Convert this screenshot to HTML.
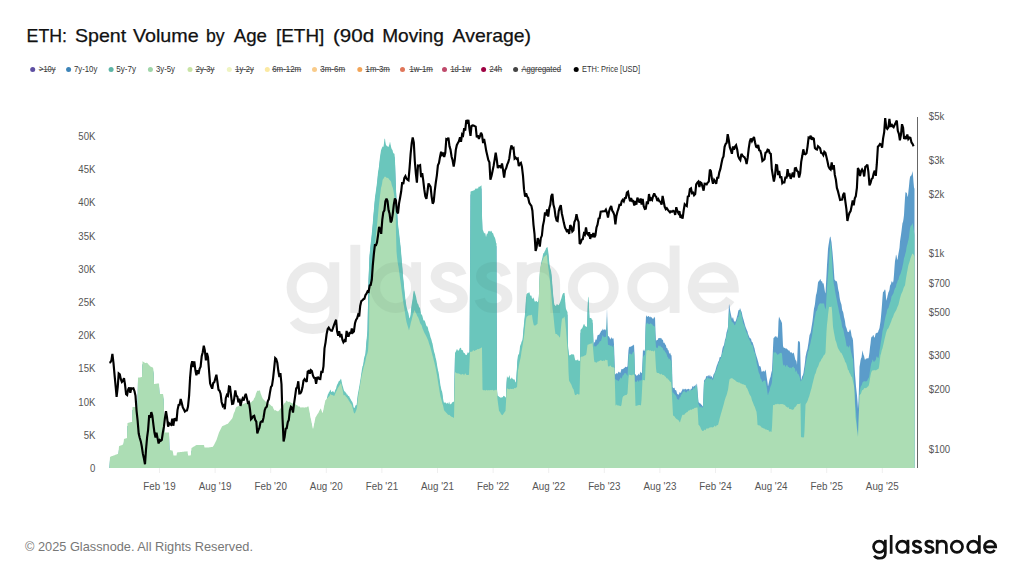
<!DOCTYPE html><html><head><meta charset="utf-8"><title>ETH: Spent Volume by Age</title>
<style>html,body{margin:0;padding:0;background:#fff}body{width:1024px;height:576px;overflow:hidden}svg{display:block}text{font-family:"Liberation Sans",sans-serif}</style></head><body>
<svg width="1024" height="576" viewBox="0 0 1024 576">
<rect width="1024" height="576" fill="#fff"/>
<text x="26.6" y="41.6" font-size="18.6" fill="#111" stroke="#111" stroke-width="0.25" textLength="40.4" lengthAdjust="spacingAndGlyphs">ETH:</text>
<text x="75.0" y="41.6" font-size="18.6" fill="#111" stroke="#111" stroke-width="0.25" textLength="51.2" lengthAdjust="spacingAndGlyphs">Spent</text>
<text x="132.9" y="41.6" font-size="18.6" fill="#111" stroke="#111" stroke-width="0.25" textLength="65.8" lengthAdjust="spacingAndGlyphs">Volume</text>
<text x="205.9" y="41.6" font-size="18.6" fill="#111" stroke="#111" stroke-width="0.25" textLength="18.6" lengthAdjust="spacingAndGlyphs">by</text>
<text x="233.8" y="41.6" font-size="18.6" fill="#111" stroke="#111" stroke-width="0.25" textLength="33.2" lengthAdjust="spacingAndGlyphs">Age</text>
<text x="276.0" y="41.6" font-size="18.6" fill="#111" stroke="#111" stroke-width="0.25" textLength="48.3" lengthAdjust="spacingAndGlyphs">[ETH]</text>
<text x="333.0" y="41.6" font-size="18.6" fill="#111" stroke="#111" stroke-width="0.25" textLength="41.2" lengthAdjust="spacingAndGlyphs">(90d</text>
<text x="382.2" y="41.6" font-size="18.6" fill="#111" stroke="#111" stroke-width="0.25" textLength="61.6" lengthAdjust="spacingAndGlyphs">Moving</text>
<text x="452.6" y="41.6" font-size="18.6" fill="#111" stroke="#111" stroke-width="0.25" textLength="78.4" lengthAdjust="spacingAndGlyphs">Average)</text>
<circle cx="32.7" cy="69.5" r="2.5" fill="#5e4fa2"/>
<text transform="translate(39.0,72.3) scale(1,1.1)" font-size="7.6" fill="#333" textLength="16.5" lengthAdjust="spacingAndGlyphs">&gt;10y</text>
<rect x="38.7" y="69.4" width="17.1" height="0.6" fill="#444"/>
<circle cx="68.6" cy="69.5" r="2.5" fill="#3d84b8"/>
<text transform="translate(73.9,72.3) scale(1,1.1)" font-size="7.6" fill="#333" textLength="23.4" lengthAdjust="spacingAndGlyphs">7y-10y</text>
<circle cx="111.1" cy="69.5" r="2.5" fill="#5db5a6"/>
<text transform="translate(116.3,72.3) scale(1,1.1)" font-size="7.6" fill="#333" textLength="19.8" lengthAdjust="spacingAndGlyphs">5y-7y</text>
<circle cx="150.4" cy="69.5" r="2.5" fill="#9fd5a8"/>
<text transform="translate(156.0,72.3) scale(1,1.1)" font-size="7.6" fill="#333" textLength="19.0" lengthAdjust="spacingAndGlyphs">3y-5y</text>
<circle cx="190.0" cy="69.5" r="2.5" fill="#c8e3a4"/>
<text transform="translate(195.7,72.3) scale(1,1.1)" font-size="7.6" fill="#333" textLength="18.7" lengthAdjust="spacingAndGlyphs">2y-3y</text>
<rect x="195.4" y="69.4" width="19.3" height="0.6" fill="#444"/>
<circle cx="229.3" cy="69.5" r="2.5" fill="#eff4c2"/>
<text transform="translate(235.2,72.3) scale(1,1.1)" font-size="7.6" fill="#333" textLength="18.6" lengthAdjust="spacingAndGlyphs">1y-2y</text>
<rect x="234.9" y="69.4" width="19.2" height="0.6" fill="#444"/>
<circle cx="267.3" cy="69.5" r="2.5" fill="#fbe9a2"/>
<text transform="translate(272.2,72.3) scale(1,1.1)" font-size="7.6" fill="#333" textLength="28.9" lengthAdjust="spacingAndGlyphs">6m-12m</text>
<rect x="271.9" y="69.4" width="29.5" height="0.6" fill="#444"/>
<circle cx="314.5" cy="69.5" r="2.5" fill="#f9cb8a"/>
<text transform="translate(320.3,72.3) scale(1,1.1)" font-size="7.6" fill="#333" textLength="24.7" lengthAdjust="spacingAndGlyphs">3m-6m</text>
<rect x="320.0" y="69.4" width="25.3" height="0.6" fill="#444"/>
<circle cx="359.8" cy="69.5" r="2.5" fill="#f2a457"/>
<text transform="translate(365.6,72.3) scale(1,1.1)" font-size="7.6" fill="#333" textLength="24.2" lengthAdjust="spacingAndGlyphs">1m-3m</text>
<rect x="365.3" y="69.4" width="24.8" height="0.6" fill="#444"/>
<circle cx="402.5" cy="69.5" r="2.5" fill="#e0765a"/>
<text transform="translate(409.4,72.3) scale(1,1.1)" font-size="7.6" fill="#333" textLength="23.4" lengthAdjust="spacingAndGlyphs">1w-1m</text>
<rect x="409.1" y="69.4" width="24.0" height="0.6" fill="#444"/>
<circle cx="444.5" cy="69.5" r="2.5" fill="#bf4a6b"/>
<text transform="translate(450.4,72.3) scale(1,1.1)" font-size="7.6" fill="#333" textLength="20.6" lengthAdjust="spacingAndGlyphs">1d-1w</text>
<rect x="450.1" y="69.4" width="21.2" height="0.6" fill="#444"/>
<circle cx="483.6" cy="69.5" r="2.5" fill="#9e0142"/>
<text transform="translate(489.5,72.3) scale(1,1.1)" font-size="7.6" fill="#333" textLength="12.5" lengthAdjust="spacingAndGlyphs">24h</text>
<rect x="489.2" y="69.4" width="13.1" height="0.6" fill="#444"/>
<circle cx="515.6" cy="69.5" r="2.5" fill="#444444"/>
<text transform="translate(521.5,72.3) scale(1,1.1)" font-size="7.6" fill="#333" textLength="39.5" lengthAdjust="spacingAndGlyphs">Aggregated</text>
<rect x="521.2" y="69.4" width="40.1" height="0.6" fill="#444"/>
<circle cx="576.2" cy="69.5" r="2.5" fill="#000000"/>
<text transform="translate(582.0,72.3) scale(1,1.1)" font-size="7.6" fill="#333" textLength="58.0" lengthAdjust="spacingAndGlyphs">ETH: Price [USD]</text>
<g opacity="0.03" transform="translate(286.7,312.9) scale(3.62)"><g fill="none" stroke="#000" stroke-width="2.7"><circle cx="7" cy="-7" r="5.65"/><path d="M13.15,-14 V-0.5 C13.15,3 10.5,4.45 7.2,4.45 C4.8,4.45 3,3.6 2.0,2.0"/><path d="M18.95,-18.8 V0"/><circle cx="30.1" cy="-7" r="5.65"/><path d="M35.75,-14 V0"/><path transform="translate(44.8,0) scale(1.1,1)" d="M3.1,-10.4 C2.6,-11.9 1.5,-12.7 0,-12.7 C-1.9,-12.7 -3.2,-11.6 -3.2,-10.1 C-3.2,-8.4 -1.6,-7.7 0,-7.2 C1.8,-6.7 3.4,-5.9 3.4,-4.0 C3.4,-2.3 1.9,-1.3 0,-1.3 C-1.8,-1.3 -3.1,-2.2 -3.6,-3.8"/><path transform="translate(57.2,0) scale(1.08,1)" d="M3.1,-10.4 C2.6,-11.9 1.5,-12.7 0,-12.7 C-1.9,-12.7 -3.2,-11.6 -3.2,-10.1 C-3.2,-8.4 -1.6,-7.7 0,-7.2 C1.8,-6.7 3.4,-5.9 3.4,-4.0 C3.4,-2.3 1.9,-1.3 0,-1.3 C-1.8,-1.3 -3.1,-2.2 -3.6,-3.8"/><path d="M64.95,0 V-14 M64.95,-8.2 C64.95,-11 67,-12.65 69.55,-12.65 C72.3,-12.65 74.15,-10.9 74.15,-8.2 V0"/><circle cx="84.7" cy="-7" r="5.65"/><circle cx="101.1" cy="-7" r="5.65"/><path d="M107.15,-18.6 V0"/><path d="M112.3,-7 H123.5 A5.65,5.65 0 1 0 122.53,-3.76"/></g></g>
<path d="M109.5,468.0L109.5,468.0L110.0,459.9L110.5,459.7L111.0,459.5L111.5,459.3L112.0,459.1L112.5,458.9L113.0,458.7L113.5,458.6L114.0,458.4L114.5,458.2L115.0,458.0L115.5,457.8L116.0,457.6L116.5,457.5L117.0,457.3L117.5,457.1L118.0,456.9L118.5,455.5L119.0,449.2L119.5,449.0L120.0,448.8L120.5,448.6L121.0,448.4L121.5,448.2L122.0,448.0L122.5,447.8L123.0,447.6L123.5,446.5L124.0,442.0L124.5,441.8L125.0,441.7L125.5,441.5L126.0,441.3L126.5,441.2L127.0,441.0L127.5,426.0L128.0,425.9L128.5,425.8L129.0,425.6L129.5,425.5L130.0,425.4L130.5,425.3L131.0,425.1L131.5,425.0L132.0,424.9L132.5,409.9L133.0,409.9L133.5,409.9L134.0,409.9L134.5,409.9L135.0,410.0L135.5,410.0L136.0,410.0L136.5,410.0L137.0,410.0L137.5,410.0L138.0,380.7L138.5,380.6L139.0,380.5L139.5,380.4L140.0,380.4L140.5,380.3L141.0,380.2L141.5,380.1L142.0,380.0L142.5,364.2L143.0,364.6L143.5,364.9L144.0,365.3L144.5,365.6L145.0,366.0L145.5,365.9L146.0,365.9L146.5,365.8L147.0,365.8L147.5,366.2L148.0,366.8L148.5,367.4L149.0,368.0L149.5,368.6L150.0,369.2L150.5,369.6L151.0,369.8L151.5,370.0L152.0,370.2L152.5,370.4L153.0,370.6L153.5,373.5L154.0,387.0L154.5,386.9L155.0,386.9L155.5,386.8L156.0,386.8L156.5,386.7L157.0,386.6L157.5,386.6L158.0,386.5L158.5,386.5L159.0,386.4L159.5,395.2L160.0,397.0L160.5,397.0L161.0,397.0L161.5,397.0L162.0,397.0L162.5,397.0L163.0,397.0L163.5,399.7L164.0,413.0L164.5,431.8L165.0,435.5L165.5,435.5L166.0,435.5L166.5,435.5L167.0,435.5L167.5,435.5L168.0,435.5L168.5,435.5L169.0,435.5L169.5,453.1L170.0,453.1L170.5,453.2L171.0,453.3L171.5,453.4L172.0,453.5L172.5,453.6L173.0,455.5L173.5,458.6L174.0,458.6L174.5,458.6L175.0,458.6L175.5,458.6L176.0,458.6L176.5,458.6L177.0,455.5L177.5,455.4L178.0,455.3L178.5,455.3L179.0,455.2L179.5,455.2L180.0,455.1L180.5,455.1L181.0,455.0L181.5,455.0L182.0,454.9L182.5,454.8L183.0,454.8L183.5,454.7L184.0,454.7L184.5,454.6L185.0,454.6L185.5,454.5L186.0,454.4L186.5,454.4L187.0,454.3L187.5,454.3L188.0,458.6L188.5,458.6L189.0,458.6L189.5,458.6L190.0,458.6L190.5,458.6L191.0,457.3L191.5,451.0L192.0,450.7L192.5,450.4L193.0,450.1L193.5,449.8L194.0,449.5L194.5,449.2L195.0,448.9L195.5,448.6L196.0,448.3L196.5,448.0L197.0,448.0L197.5,448.0L198.0,448.0L198.5,448.0L199.0,448.0L199.5,448.0L200.0,448.0L200.5,448.0L201.0,448.0L201.5,448.0L202.0,448.0L202.5,448.0L203.0,448.0L203.5,448.0L204.0,448.0L204.5,450.5L205.0,450.5L205.5,450.5L206.0,450.5L206.5,450.5L207.0,450.5L207.5,450.5L208.0,450.5L208.5,450.4L209.0,450.4L209.5,450.3L210.0,450.2L210.5,450.2L211.0,450.1L211.5,450.0L212.0,450.0L212.5,449.9L213.0,449.5L213.5,448.8L214.0,448.0L214.5,447.0L215.0,446.0L215.5,445.0L216.0,444.0L216.5,443.0L217.0,441.5L217.5,440.0L218.0,438.5L218.5,437.0L219.0,435.5L219.5,434.5L220.0,433.5L220.5,432.5L221.0,431.5L221.5,430.5L222.0,429.5L222.5,429.1L223.0,428.9L223.5,428.6L224.0,428.4L224.5,428.2L225.0,428.0L225.5,427.7L226.0,427.5L226.5,427.3L227.0,427.1L227.5,426.9L228.0,426.5L228.5,425.9L229.0,425.3L229.5,424.7L230.0,424.1L230.5,423.5L231.0,422.9L231.5,422.3L232.0,421.8L232.5,420.7L233.0,419.2L233.5,417.2L234.0,415.7L234.5,415.0L235.0,413.8L235.5,411.7L236.0,410.4L236.5,410.1L237.0,409.6L237.5,409.5L238.0,409.5L238.5,409.1L239.0,409.0L239.5,408.9L240.0,408.2L240.5,408.1L241.0,408.2L241.5,408.5L242.0,407.7L242.5,406.9L243.0,406.9L243.5,406.8L244.0,407.0L244.5,406.5L245.0,406.3L245.5,406.1L246.0,406.0L246.5,405.8L247.0,405.8L247.5,405.3L248.0,404.4L248.5,405.3L249.0,405.9L249.5,405.4L250.0,405.0L250.5,405.4L251.0,405.4L251.5,405.0L252.0,404.3L252.5,403.7L253.0,403.7L253.5,402.9L254.0,401.6L254.5,400.8L255.0,400.2L255.5,398.4L256.0,396.4L256.5,395.5L257.0,394.3L257.5,393.7L258.0,393.6L258.5,393.7L259.0,393.9L259.5,393.3L260.0,393.6L260.5,395.9L261.0,397.3L261.5,398.5L262.0,400.1L262.5,400.9L263.0,402.0L263.5,402.5L264.0,402.8L264.5,403.5L265.0,404.0L265.5,404.6L266.0,405.0L266.5,405.4L267.0,406.2L267.5,406.5L268.0,406.7L268.5,406.8L269.0,407.0L269.5,407.3L270.0,407.5L270.5,408.0L271.0,408.4L271.5,409.0L272.0,409.2L272.5,409.3L273.0,410.4L273.5,411.8L274.0,412.5L274.5,413.3L275.0,413.8L275.5,412.9L276.0,413.2L276.5,414.1L277.0,414.0L277.5,414.2L278.0,414.4L278.5,414.1L279.0,413.6L279.5,413.1L280.0,412.2L280.5,411.5L281.0,411.0L281.5,410.5L282.0,410.4L282.5,409.7L283.0,408.8L283.5,407.7L284.0,406.6L284.5,406.2L285.0,405.9L285.5,405.6L286.0,404.1L286.5,403.4L287.0,404.2L287.5,404.5L288.0,404.6L288.5,405.1L289.0,404.9L289.5,404.6L290.0,404.9L290.5,405.4L291.0,405.7L291.5,406.1L292.0,406.1L292.5,406.3L293.0,406.7L293.5,407.2L294.0,407.8L294.5,407.8L295.0,407.6L295.5,407.1L296.0,407.8L296.5,408.3L297.0,407.9L297.5,408.6L298.0,409.5L298.5,409.6L299.0,409.3L299.5,409.5L300.0,409.9L300.5,410.4L301.0,410.7L301.5,410.2L302.0,410.4L302.5,410.5L303.0,410.1L303.5,410.5L304.0,410.8L304.5,410.7L305.0,410.1L305.5,410.3L306.0,410.7L306.5,410.3L307.0,409.9L307.5,409.6L308.0,409.7L308.5,409.3L309.0,412.2L309.5,414.9L310.0,417.9L310.5,420.8L311.0,422.7L311.5,425.3L312.0,428.0L312.5,430.2L313.0,432.4L313.5,430.2L314.0,427.9L314.5,425.6L315.0,422.8L315.5,420.3L316.0,419.8L316.5,418.7L317.0,417.9L317.5,417.0L318.0,416.5L318.5,415.8L319.0,414.5L319.5,413.6L320.0,412.8L320.5,411.4L321.0,412.1L321.5,413.5L322.0,414.7L322.5,415.7L323.0,415.7L323.5,412.5L324.0,409.8L324.5,407.4L325.0,405.0L325.5,403.1L326.0,402.9L326.5,402.1L327.0,400.5L327.5,398.8L328.0,397.0L328.5,396.4L329.0,394.9L329.5,394.7L330.0,393.3L330.5,392.6L331.0,394.4L331.5,395.1L332.0,394.9L332.5,394.2L333.0,394.0L333.5,394.7L334.0,395.4L334.5,395.6L335.0,393.5L335.5,392.6L336.0,391.8L336.5,389.6L337.0,387.9L337.5,386.9L338.0,386.3L338.5,384.8L339.0,384.0L339.5,383.9L340.0,383.0L340.5,382.5L341.0,381.4L341.5,383.7L342.0,386.5L342.5,388.5L343.0,389.9L343.5,392.0L344.0,393.6L344.5,394.6L345.0,394.5L345.5,395.3L346.0,395.9L346.5,396.5L347.0,398.0L347.5,397.3L348.0,398.8L348.5,399.3L349.0,398.7L349.5,400.2L350.0,401.3L350.5,402.1L351.0,403.0L351.5,403.9L352.0,404.6L352.5,405.5L353.0,407.0L353.5,409.8L354.0,411.0L354.5,411.0L355.0,409.7L355.5,408.4L356.0,407.9L356.5,408.2L357.0,405.3L357.5,399.6L358.0,396.3L358.5,393.8L359.0,390.9L359.5,388.2L360.0,385.1L360.5,382.1L361.0,378.8L361.5,375.4L362.0,371.7L362.5,369.3L363.0,368.5L363.5,365.4L364.0,361.5L364.5,359.5L365.0,358.2L365.5,356.3L366.0,349.3L366.5,343.4L367.0,338.4L367.5,332.8L368.0,306.9L368.5,282.2L369.0,270.8L369.5,257.9L370.0,253.4L370.5,248.1L371.0,243.9L371.5,239.6L372.0,234.3L372.5,229.1L373.0,223.5L373.5,216.8L374.0,211.4L374.5,205.6L375.0,200.2L375.5,196.8L376.0,193.3L376.5,189.4L377.0,185.7L377.5,181.0L378.0,175.5L378.5,172.4L379.0,169.6L379.5,164.5L380.0,160.1L380.5,156.7L381.0,153.2L381.5,151.9L382.0,150.8L382.5,149.6L383.0,149.7L383.5,149.8L384.0,145.9L384.5,141.8L385.0,141.7L385.5,146.2L386.0,148.1L386.5,148.6L387.0,149.2L387.5,149.3L388.0,149.7L388.5,149.9L389.0,148.6L389.5,147.1L390.0,144.5L390.5,147.2L391.0,149.7L391.5,151.6L392.0,152.6L392.5,153.0L393.0,155.3L393.5,156.5L394.0,156.3L394.5,157.3L395.0,163.8L395.5,178.3L396.0,192.0L396.5,201.4L397.0,209.9L397.5,219.9L398.0,227.1L398.5,231.4L399.0,235.1L399.5,239.9L400.0,244.4L400.5,248.4L401.0,254.0L401.5,260.8L402.0,265.9L402.5,272.0L403.0,278.9L403.5,283.4L404.0,289.0L404.5,294.2L405.0,298.7L405.5,303.3L406.0,306.7L406.5,309.6L407.0,311.9L407.5,313.6L408.0,314.9L408.5,316.4L409.0,319.6L409.5,321.6L410.0,320.4L410.5,318.4L411.0,314.2L411.5,308.6L412.0,305.7L412.5,303.0L413.0,298.8L413.5,294.8L414.0,293.6L414.5,294.3L415.0,296.1L415.5,297.7L416.0,299.6L416.5,302.2L417.0,304.6L417.5,306.6L418.0,306.7L418.5,308.0L419.0,309.7L419.5,310.6L420.0,311.1L420.5,313.7L421.0,316.9L421.5,317.5L422.0,318.0L422.5,319.5L423.0,321.4L423.5,323.4L424.0,323.3L424.5,323.4L425.0,324.6L425.5,325.9L426.0,327.7L426.5,329.1L427.0,329.5L427.5,329.4L428.0,331.2L428.5,333.7L429.0,334.8L429.5,336.2L430.0,338.2L430.5,340.2L431.0,341.6L431.5,343.0L432.0,345.2L432.5,346.6L433.0,349.2L433.5,352.1L434.0,354.6L434.5,356.1L435.0,357.4L435.5,360.5L436.0,362.2L436.5,364.6L437.0,368.1L437.5,370.6L438.0,373.4L438.5,375.1L439.0,377.9L439.5,382.0L440.0,385.2L440.5,388.7L441.0,391.0L441.5,393.3L442.0,394.3L442.5,396.7L443.0,401.3L443.5,404.0L444.0,406.1L444.5,405.5L445.0,405.3L445.5,405.6L446.0,406.2L446.5,406.6L447.0,406.4L447.5,405.4L448.0,406.6L448.5,406.9L449.0,404.5L449.5,405.7L450.0,407.7L450.5,406.9L451.0,406.7L451.5,406.8L452.0,405.6L452.5,405.3L453.0,405.0L453.5,404.4L454.0,404.9L454.5,380.3L455.0,356.0L455.5,355.1L456.0,354.3L456.5,353.1L457.0,351.8L457.5,352.9L458.0,353.7L458.5,353.5L459.0,353.2L459.5,351.8L460.0,351.1L460.5,350.7L461.0,351.1L461.5,352.9L462.0,352.9L462.5,352.9L463.0,354.0L463.5,355.5L464.0,356.0L464.5,356.1L465.0,356.7L465.5,357.7L466.0,358.0L466.5,357.9L467.0,357.4L467.5,355.8L468.0,355.3L468.5,355.9L469.0,355.5L469.5,355.1L470.0,283.2L470.5,194.3L471.0,194.7L471.5,193.9L472.0,193.9L472.5,194.1L473.0,193.5L473.5,193.5L474.0,193.6L474.5,193.0L475.0,192.5L475.5,191.5L476.0,191.5L476.5,191.9L477.0,191.1L477.5,191.5L478.0,191.7L478.5,190.0L479.0,189.5L479.5,189.8L480.0,189.8L480.5,189.1L481.0,188.8L481.5,188.2L482.0,218.6L482.5,232.6L483.0,233.3L483.5,234.4L484.0,236.1L484.5,236.4L485.0,235.4L485.5,237.2L486.0,240.3L486.5,238.1L487.0,236.6L487.5,236.9L488.0,235.1L488.5,233.8L489.0,234.6L489.5,234.3L490.0,233.4L490.5,234.5L491.0,234.7L491.5,233.5L492.0,235.2L492.5,236.3L493.0,236.0L493.5,237.7L494.0,239.3L494.5,240.1L495.0,241.0L495.5,242.7L496.0,245.7L496.5,246.5L497.0,392.1L497.5,398.6L498.0,399.0L498.5,399.1L499.0,399.7L499.5,400.0L500.0,400.3L500.5,400.4L501.0,401.1L501.5,400.6L502.0,400.0L502.5,400.6L503.0,399.7L503.5,398.8L504.0,399.1L504.5,399.2L505.0,399.8L505.5,400.0L506.0,400.9L506.5,385.5L507.0,378.8L507.5,380.5L508.0,380.5L508.5,380.7L509.0,379.4L509.5,378.0L510.0,380.7L510.5,382.2L511.0,381.9L511.5,380.8L512.0,380.6L512.5,381.7L513.0,382.2L513.5,382.5L514.0,382.2L514.5,382.4L515.0,383.8L515.5,385.3L516.0,385.3L516.5,377.2L517.0,369.7L517.5,361.8L518.0,358.6L518.5,357.2L519.0,357.3L519.5,354.6L520.0,349.6L520.5,347.8L521.0,347.1L521.5,344.7L522.0,343.9L522.5,342.8L523.0,337.8L523.5,331.8L524.0,326.4L524.5,321.4L525.0,317.0L525.5,310.4L526.0,301.1L526.5,297.2L527.0,296.7L527.5,295.9L528.0,296.2L528.5,296.1L529.0,295.1L529.5,295.7L530.0,297.7L530.5,299.0L531.0,298.2L531.5,299.1L532.0,301.6L532.5,301.9L533.0,300.6L533.5,300.7L534.0,301.9L534.5,304.1L535.0,304.7L535.5,304.2L536.0,304.4L536.5,303.7L537.0,304.6L537.5,305.3L538.0,304.7L538.5,303.6L539.0,296.3L539.5,280.6L540.0,271.5L540.5,269.5L541.0,266.7L541.5,264.3L542.0,262.5L542.5,260.3L543.0,257.6L543.5,256.1L544.0,255.9L544.5,254.7L545.0,253.7L545.5,253.0L546.0,251.2L546.5,250.8L547.0,250.2L547.5,250.1L548.0,253.0L548.5,257.1L549.0,263.1L549.5,267.8L550.0,270.6L550.5,272.1L551.0,273.4L551.5,276.9L552.0,283.2L552.5,290.2L553.0,296.0L553.5,301.0L554.0,305.5L554.5,308.0L555.0,307.8L555.5,309.1L556.0,308.9L556.5,307.5L557.0,306.9L557.5,307.4L558.0,307.9L558.5,308.2L559.0,307.6L559.5,306.4L560.0,305.5L560.5,304.0L561.0,302.6L561.5,300.9L562.0,299.0L562.5,297.4L563.0,296.4L563.5,296.1L564.0,296.0L564.5,295.8L565.0,301.0L565.5,310.0L566.0,312.1L566.5,312.9L567.0,314.2L567.5,315.1L568.0,348.8L568.5,353.0L569.0,358.3L569.5,358.4L570.0,357.4L570.5,357.9L571.0,358.2L571.5,356.9L572.0,357.0L572.5,357.4L573.0,357.5L573.5,357.6L574.0,357.4L574.5,360.0L575.0,362.6L575.5,363.3L576.0,363.5L576.5,363.1L577.0,363.6L577.5,362.8L578.0,362.3L578.5,363.8L579.0,364.0L579.5,364.0L580.0,363.1L580.5,333.1L581.0,332.5L581.5,331.7L582.0,331.5L582.5,330.6L583.0,329.2L583.5,327.8L584.0,326.9L584.5,327.4L585.0,329.0L585.5,329.2L586.0,329.6L586.5,329.9L587.0,329.5L587.5,315.4L588.0,301.1L588.5,299.6L589.0,310.6L589.5,320.9L590.0,321.1L590.5,321.0L591.0,320.9L591.5,321.5L592.0,322.9L592.5,322.5L593.0,332.1L593.5,345.2L594.0,342.2L594.5,342.6L595.0,342.0L595.5,339.5L596.0,339.5L596.5,340.0L597.0,338.1L597.5,335.6L598.0,335.1L598.5,335.0L599.0,334.6L599.5,334.4L600.0,333.0L600.5,332.4L601.0,331.1L601.5,330.4L602.0,330.8L602.5,329.5L603.0,328.6L603.5,330.2L604.0,330.1L604.5,329.2L605.0,329.5L605.5,329.6L606.0,330.8L606.5,324.1L607.0,307.9L607.5,327.4L608.0,336.6L608.5,335.9L609.0,336.4L609.5,337.5L610.0,338.8L610.5,339.4L611.0,337.7L611.5,337.2L612.0,338.8L612.5,338.4L613.0,338.6L613.5,338.3L614.0,344.6L614.5,359.0L615.0,373.8L615.5,374.5L616.0,373.3L616.5,373.0L617.0,374.0L617.5,373.6L618.0,372.8L618.5,371.8L619.0,371.8L619.5,372.2L620.0,373.1L620.5,372.5L621.0,370.8L621.5,369.1L622.0,369.1L622.5,369.2L623.0,369.0L623.5,368.7L624.0,367.7L624.5,367.9L625.0,367.3L625.5,366.8L626.0,366.7L626.5,367.2L627.0,366.9L627.5,366.2L628.0,357.8L628.5,350.3L629.0,347.2L629.5,347.0L630.0,346.6L630.5,347.0L631.0,346.3L631.5,346.2L632.0,346.2L632.5,345.5L633.0,345.3L633.5,345.3L634.0,344.3L634.5,354.7L635.0,374.4L635.5,373.9L636.0,375.3L636.5,375.7L637.0,375.5L637.5,375.2L638.0,375.1L638.5,373.6L639.0,374.4L639.5,375.3L640.0,372.5L640.5,371.6L641.0,373.2L641.5,372.9L642.0,372.2L642.5,360.4L643.0,349.3L643.5,350.6L644.0,350.9L644.5,350.8L645.0,349.0L645.5,326.9L646.0,315.8L646.5,315.6L647.0,316.9L647.5,316.8L648.0,316.3L648.5,315.9L649.0,316.3L649.5,317.5L650.0,316.4L650.5,316.8L651.0,317.8L651.5,317.0L652.0,317.8L652.5,318.4L653.0,319.0L653.5,318.5L654.0,317.3L654.5,317.7L655.0,316.6L655.5,332.7L656.0,341.4L656.5,340.0L657.0,339.9L657.5,339.9L658.0,339.2L658.5,338.0L659.0,338.0L659.5,338.2L660.0,337.8L660.5,338.5L661.0,337.7L661.5,338.4L662.0,339.8L662.5,339.4L663.0,340.3L663.5,342.8L664.0,343.1L664.5,342.6L665.0,344.5L665.5,344.6L666.0,345.6L666.5,348.2L667.0,347.7L667.5,348.7L668.0,350.4L668.5,350.1L669.0,352.8L669.5,353.9L670.0,352.6L670.5,353.7L671.0,355.4L671.5,355.1L672.0,365.1L672.5,386.9L673.0,387.7L673.5,388.2L674.0,387.8L674.5,387.8L675.0,389.9L675.5,390.2L676.0,390.1L676.5,391.2L677.0,393.5L677.5,394.4L678.0,393.8L678.5,395.0L679.0,394.3L679.5,392.4L680.0,392.0L680.5,392.9L681.0,392.7L681.5,391.2L682.0,390.4L682.5,389.2L683.0,388.6L683.5,389.2L684.0,389.7L684.5,389.3L685.0,388.8L685.5,388.7L686.0,389.6L686.5,389.7L687.0,388.8L687.5,389.6L688.0,389.0L688.5,388.7L689.0,388.9L689.5,389.1L690.0,393.0L690.5,389.3L691.0,388.5L691.5,389.2L692.0,387.8L692.5,385.7L693.0,386.8L693.5,386.9L694.0,385.6L694.5,386.3L695.0,385.5L695.5,384.4L696.0,388.1L696.5,384.3L697.0,383.5L697.5,390.4L698.0,396.4L698.5,402.2L699.0,402.5L699.5,403.0L700.0,403.6L700.5,403.6L701.0,404.2L701.5,404.8L702.0,405.2L702.5,406.6L703.0,405.6L703.5,392.7L704.0,380.8L704.5,379.8L705.0,379.4L705.5,378.7L706.0,377.0L706.5,375.9L707.0,376.0L707.5,376.4L708.0,375.2L708.5,375.3L709.0,376.8L709.5,375.8L710.0,374.6L710.5,376.2L711.0,377.2L711.5,375.7L712.0,376.8L712.5,378.5L713.0,376.7L713.5,374.5L714.0,374.0L714.5,372.9L715.0,371.7L715.5,370.2L716.0,368.3L716.5,366.6L717.0,365.0L717.5,363.9L718.0,362.2L718.5,361.3L719.0,360.6L719.5,357.7L720.0,356.8L720.5,357.2L721.0,356.5L721.5,354.6L722.0,351.2L722.5,348.4L723.0,346.7L723.5,346.1L724.0,345.1L724.5,342.5L725.0,339.4L725.5,338.5L726.0,336.0L726.5,332.4L727.0,331.0L727.5,329.3L728.0,326.7L728.5,315.9L729.0,303.7L729.5,306.0L730.0,309.7L730.5,312.5L731.0,314.7L731.5,317.0L732.0,318.9L732.5,318.0L733.0,317.1L733.5,319.2L734.0,321.1L734.5,321.5L735.0,321.8L735.5,321.6L736.0,320.2L736.5,318.5L737.0,316.6L737.5,315.0L738.0,312.3L738.5,310.3L739.0,309.9L739.5,309.9L740.0,308.1L740.5,309.3L741.0,310.9L741.5,311.6L742.0,313.5L742.5,316.3L743.0,318.0L743.5,319.4L744.0,321.4L744.5,323.3L745.0,325.0L745.5,326.7L746.0,328.0L746.5,329.3L747.0,330.6L747.5,331.5L748.0,333.7L748.5,335.1L749.0,336.2L749.5,337.6L750.0,338.2L750.5,338.5L751.0,338.5L751.5,341.0L752.0,342.3L752.5,342.1L753.0,343.7L753.5,345.3L754.0,346.9L754.5,348.3L755.0,350.7L755.5,353.1L756.0,354.6L756.5,356.2L757.0,357.7L757.5,359.5L758.0,361.3L758.5,363.1L759.0,365.5L759.5,366.2L760.0,366.2L760.5,366.6L761.0,368.5L761.5,371.2L762.0,372.0L762.5,371.1L763.0,371.8L763.5,370.9L764.0,370.6L764.5,371.9L765.0,371.0L765.5,369.4L766.0,371.8L766.5,375.7L767.0,379.2L767.5,382.6L768.0,386.4L768.5,384.3L769.0,381.9L769.5,379.7L770.0,377.9L770.5,377.0L771.0,374.3L771.5,372.0L772.0,370.5L772.5,359.5L773.0,348.1L773.5,337.7L774.0,337.9L774.5,336.9L775.0,336.4L775.5,336.3L776.0,336.5L776.5,336.5L777.0,337.7L777.5,337.7L778.0,335.7L778.5,321.5L779.0,316.4L779.5,317.7L780.0,318.8L780.5,320.0L781.0,320.4L781.5,322.0L782.0,322.9L782.5,334.5L783.0,346.0L783.5,347.2L784.0,348.0L784.5,347.7L785.0,348.0L785.5,348.6L786.0,348.8L786.5,348.2L787.0,349.1L787.5,349.5L788.0,349.7L788.5,350.7L789.0,350.3L789.5,350.7L790.0,351.9L790.5,352.4L791.0,352.4L791.5,352.2L792.0,352.8L792.5,353.7L793.0,353.1L793.5,352.5L794.0,353.8L794.5,356.0L795.0,358.2L795.5,360.1L796.0,360.4L796.5,361.5L797.0,364.9L797.5,352.5L798.0,340.8L798.5,341.6L799.0,341.0L799.5,341.7L800.0,342.7L800.5,361.4L801.0,380.3L801.5,379.1L802.0,376.8L802.5,375.7L803.0,374.9L803.5,372.7L804.0,369.0L804.5,365.9L805.0,362.1L805.5,356.7L806.0,354.6L806.5,352.1L807.0,350.4L807.5,348.7L808.0,345.4L808.5,342.6L809.0,338.7L809.5,335.2L810.0,334.1L810.5,333.0L811.0,330.5L811.5,327.2L812.0,324.2L812.5,320.9L813.0,317.0L813.5,312.6L814.0,308.6L814.5,306.4L815.0,303.8L815.5,298.9L816.0,295.1L816.5,293.6L817.0,291.1L817.5,287.0L818.0,282.5L818.5,281.6L819.0,281.1L819.5,280.5L820.0,279.4L820.5,279.1L821.0,281.1L821.5,281.4L822.0,281.0L822.5,283.0L823.0,283.8L823.5,283.0L824.0,286.1L824.5,289.0L825.0,291.9L825.5,293.5L826.0,283.8L826.5,275.0L827.0,265.1L827.5,257.4L828.0,249.1L828.5,245.2L829.0,242.2L829.5,239.0L830.0,236.9L830.5,236.6L831.0,239.7L831.5,242.2L832.0,247.4L832.5,252.2L833.0,258.5L833.5,264.6L834.0,272.3L834.5,279.7L835.0,279.8L835.5,281.1L836.0,281.3L836.5,281.0L837.0,282.1L837.5,284.4L838.0,288.2L838.5,290.8L839.0,292.6L839.5,296.8L840.0,299.7L840.5,301.7L841.0,303.2L841.5,304.8L842.0,308.7L842.5,311.1L843.0,311.5L843.5,313.7L844.0,317.1L844.5,318.7L845.0,321.2L845.5,325.2L846.0,327.0L846.5,328.0L847.0,330.0L847.5,331.4L848.0,332.3L848.5,332.1L849.0,331.8L849.5,330.4L850.0,328.9L850.5,330.3L851.0,331.9L851.5,335.4L852.0,337.2L852.5,338.0L853.0,340.4L853.5,349.0L854.0,357.4L854.5,366.8L855.0,374.6L855.5,380.1L856.0,386.6L856.5,391.0L857.0,395.4L857.5,401.4L858.0,409.0L858.5,401.2L859.0,386.8L859.5,366.7L860.0,364.0L860.5,360.6L861.0,358.6L861.5,357.6L862.0,353.7L862.5,350.3L863.0,352.7L863.5,354.9L864.0,355.7L864.5,358.2L865.0,359.9L865.5,359.3L866.0,358.5L866.5,358.2L867.0,359.2L867.5,358.1L868.0,358.1L868.5,358.4L869.0,355.7L869.5,352.2L870.0,347.3L870.5,343.7L871.0,339.1L871.5,336.5L872.0,337.2L872.5,336.2L873.0,335.3L873.5,335.1L874.0,336.9L874.5,337.8L875.0,336.4L875.5,333.9L876.0,333.0L876.5,333.2L877.0,332.4L877.5,332.8L878.0,332.5L878.5,330.4L879.0,329.4L879.5,328.1L880.0,324.5L880.5,321.4L881.0,316.5L881.5,310.7L882.0,304.4L882.5,297.2L883.0,291.8L883.5,291.9L884.0,291.0L884.5,289.9L885.0,289.2L885.5,290.7L886.0,297.4L886.5,300.8L887.0,298.4L887.5,296.0L888.0,294.1L888.5,291.9L889.0,291.3L889.5,289.4L890.0,285.7L890.5,284.8L891.0,283.9L891.5,281.5L892.0,281.2L892.5,282.3L893.0,282.7L893.5,280.2L894.0,274.4L894.5,267.3L895.0,261.0L895.5,258.4L896.0,254.6L896.5,255.8L897.0,258.8L897.5,260.0L898.0,256.6L898.5,253.3L899.0,250.7L899.5,247.7L900.0,241.6L900.5,238.0L901.0,234.7L901.5,231.1L902.0,226.8L902.5,222.9L903.0,222.0L903.5,219.0L904.0,214.9L904.5,206.0L905.0,198.0L905.5,191.7L906.0,192.7L906.5,192.4L907.0,193.6L907.5,196.9L908.0,195.7L908.5,190.6L909.0,186.0L909.5,180.6L910.0,177.3L910.5,175.9L911.0,175.8L911.5,175.2L912.0,173.4L912.5,170.9L913.0,175.6L913.5,181.9L914.0,187.6L914.5,188.7L914.5,468.0Z" fill="#5b9cca"/>
<path d="M109.5,468.0L109.5,468.0L110.0,459.9L110.5,459.7L111.0,459.5L111.5,459.3L112.0,459.1L112.5,458.9L113.0,458.7L113.5,458.6L114.0,458.4L114.5,458.2L115.0,458.0L115.5,457.8L116.0,457.6L116.5,457.5L117.0,457.3L117.5,457.1L118.0,456.9L118.5,455.5L119.0,449.2L119.5,449.0L120.0,448.8L120.5,448.6L121.0,448.4L121.5,448.2L122.0,448.0L122.5,447.8L123.0,447.6L123.5,446.5L124.0,442.0L124.5,441.8L125.0,441.7L125.5,441.5L126.0,441.3L126.5,441.2L127.0,441.0L127.5,426.0L128.0,425.9L128.5,425.8L129.0,425.6L129.5,425.5L130.0,425.4L130.5,425.3L131.0,425.1L131.5,425.0L132.0,424.9L132.5,409.9L133.0,409.9L133.5,409.9L134.0,409.9L134.5,409.9L135.0,410.0L135.5,410.0L136.0,410.0L136.5,410.0L137.0,410.0L137.5,410.0L138.0,380.7L138.5,380.6L139.0,380.5L139.5,380.4L140.0,380.4L140.5,380.3L141.0,380.2L141.5,380.1L142.0,380.0L142.5,364.2L143.0,364.6L143.5,364.9L144.0,365.3L144.5,365.6L145.0,366.0L145.5,365.9L146.0,365.9L146.5,365.8L147.0,365.8L147.5,366.2L148.0,366.8L148.5,367.4L149.0,368.0L149.5,368.6L150.0,369.2L150.5,369.6L151.0,369.8L151.5,370.0L152.0,370.2L152.5,370.4L153.0,370.6L153.5,373.5L154.0,387.0L154.5,386.9L155.0,386.9L155.5,386.8L156.0,386.8L156.5,386.7L157.0,386.6L157.5,386.6L158.0,386.5L158.5,386.5L159.0,386.4L159.5,395.2L160.0,397.0L160.5,397.0L161.0,397.0L161.5,397.0L162.0,397.0L162.5,397.0L163.0,397.0L163.5,399.7L164.0,413.0L164.5,431.8L165.0,435.5L165.5,435.5L166.0,435.5L166.5,435.5L167.0,435.5L167.5,435.5L168.0,435.5L168.5,435.5L169.0,435.5L169.5,453.1L170.0,453.1L170.5,453.2L171.0,453.3L171.5,453.4L172.0,453.5L172.5,453.6L173.0,455.5L173.5,458.6L174.0,458.6L174.5,458.6L175.0,458.6L175.5,458.6L176.0,458.6L176.5,458.6L177.0,455.5L177.5,455.4L178.0,455.3L178.5,455.3L179.0,455.2L179.5,455.2L180.0,455.1L180.5,455.1L181.0,455.0L181.5,455.0L182.0,454.9L182.5,454.8L183.0,454.8L183.5,454.7L184.0,454.7L184.5,454.6L185.0,454.6L185.5,454.5L186.0,454.4L186.5,454.4L187.0,454.3L187.5,454.3L188.0,458.6L188.5,458.6L189.0,458.6L189.5,458.6L190.0,458.6L190.5,458.6L191.0,457.3L191.5,451.0L192.0,450.7L192.5,450.4L193.0,450.1L193.5,449.8L194.0,449.5L194.5,449.2L195.0,448.9L195.5,448.6L196.0,448.3L196.5,448.0L197.0,448.0L197.5,448.0L198.0,448.0L198.5,448.0L199.0,448.0L199.5,448.0L200.0,448.0L200.5,448.0L201.0,448.0L201.5,448.0L202.0,448.0L202.5,448.0L203.0,448.0L203.5,448.0L204.0,448.0L204.5,450.5L205.0,450.5L205.5,450.5L206.0,450.5L206.5,450.5L207.0,450.5L207.5,450.5L208.0,450.5L208.5,450.4L209.0,450.4L209.5,450.3L210.0,450.2L210.5,450.2L211.0,450.1L211.5,450.0L212.0,450.0L212.5,449.9L213.0,449.5L213.5,448.8L214.0,448.0L214.5,447.0L215.0,446.0L215.5,445.0L216.0,444.0L216.5,443.0L217.0,441.5L217.5,440.0L218.0,438.5L218.5,437.0L219.0,435.5L219.5,434.5L220.0,433.5L220.5,432.5L221.0,431.5L221.5,430.5L222.0,429.5L222.5,429.1L223.0,428.9L223.5,428.6L224.0,428.4L224.5,428.2L225.0,428.0L225.5,427.7L226.0,427.5L226.5,427.3L227.0,427.1L227.5,426.9L228.0,426.5L228.5,425.9L229.0,425.3L229.5,424.7L230.0,424.1L230.5,423.5L231.0,422.9L231.5,422.3L232.0,421.8L232.5,420.7L233.0,419.2L233.5,417.2L234.0,415.7L234.5,415.0L235.0,413.8L235.5,411.7L236.0,410.4L236.5,410.1L237.0,409.6L237.5,409.5L238.0,409.5L238.5,409.1L239.0,409.0L239.5,408.9L240.0,408.2L240.5,408.1L241.0,408.2L241.5,408.5L242.0,407.7L242.5,406.9L243.0,406.9L243.5,406.8L244.0,407.0L244.5,406.5L245.0,406.3L245.5,406.1L246.0,406.0L246.5,405.8L247.0,405.8L247.5,405.3L248.0,404.4L248.5,405.3L249.0,405.9L249.5,405.4L250.0,405.0L250.5,405.4L251.0,405.4L251.5,405.0L252.0,404.3L252.5,403.7L253.0,403.7L253.5,402.9L254.0,401.6L254.5,400.8L255.0,400.2L255.5,398.4L256.0,396.4L256.5,395.5L257.0,394.3L257.5,393.7L258.0,393.6L258.5,393.7L259.0,393.9L259.5,393.3L260.0,393.6L260.5,395.9L261.0,397.3L261.5,398.5L262.0,400.1L262.5,400.9L263.0,402.0L263.5,402.5L264.0,402.8L264.5,403.5L265.0,404.0L265.5,404.6L266.0,405.0L266.5,405.4L267.0,406.2L267.5,406.5L268.0,406.7L268.5,406.8L269.0,407.0L269.5,407.3L270.0,407.5L270.5,408.0L271.0,408.4L271.5,409.0L272.0,409.2L272.5,409.3L273.0,410.4L273.5,411.8L274.0,412.5L274.5,413.3L275.0,413.8L275.5,412.9L276.0,413.2L276.5,414.1L277.0,414.0L277.5,414.2L278.0,414.4L278.5,414.1L279.0,413.6L279.5,413.1L280.0,412.2L280.5,411.5L281.0,411.0L281.5,410.5L282.0,410.4L282.5,409.7L283.0,408.8L283.5,407.7L284.0,406.6L284.5,406.2L285.0,405.9L285.5,405.6L286.0,404.1L286.5,403.4L287.0,404.2L287.5,404.5L288.0,404.6L288.5,405.1L289.0,404.9L289.5,404.6L290.0,404.9L290.5,405.4L291.0,405.7L291.5,406.1L292.0,406.1L292.5,406.3L293.0,406.7L293.5,407.2L294.0,407.8L294.5,407.8L295.0,407.6L295.5,407.1L296.0,407.8L296.5,408.3L297.0,407.9L297.5,408.6L298.0,409.5L298.5,409.6L299.0,409.3L299.5,409.5L300.0,409.9L300.5,410.4L301.0,410.7L301.5,410.2L302.0,410.4L302.5,410.5L303.0,410.1L303.5,410.5L304.0,410.8L304.5,410.7L305.0,410.1L305.5,410.3L306.0,410.7L306.5,410.3L307.0,409.9L307.5,409.6L308.0,409.7L308.5,409.3L309.0,412.2L309.5,414.9L310.0,417.9L310.5,420.8L311.0,422.7L311.5,425.3L312.0,428.0L312.5,430.2L313.0,432.4L313.5,430.2L314.0,427.9L314.5,425.6L315.0,422.8L315.5,420.3L316.0,419.8L316.5,418.7L317.0,417.9L317.5,417.0L318.0,416.5L318.5,415.8L319.0,414.5L319.5,413.6L320.0,412.8L320.5,411.4L321.0,412.1L321.5,413.5L322.0,414.7L322.5,415.7L323.0,415.7L323.5,412.5L324.0,409.8L324.5,407.4L325.0,405.0L325.5,403.1L326.0,402.9L326.5,402.1L327.0,397.5L327.5,395.8L328.0,394.0L328.5,393.4L329.0,391.9L329.5,391.7L330.0,390.3L330.5,389.6L331.0,391.4L331.5,392.1L332.0,391.9L332.5,391.2L333.0,391.0L333.5,391.7L334.0,392.4L334.5,392.6L335.0,390.5L335.5,389.6L336.0,388.8L336.5,386.6L337.0,384.9L337.5,383.9L338.0,383.3L338.5,381.8L339.0,381.0L339.5,380.9L340.0,380.0L340.5,379.5L341.0,378.4L341.5,380.7L342.0,383.5L342.5,385.5L343.0,386.9L343.5,389.0L344.0,390.6L344.5,391.6L345.0,391.5L345.5,392.3L346.0,392.9L346.5,393.5L347.0,395.0L347.5,394.3L348.0,395.8L348.5,396.3L349.0,395.7L349.5,397.2L350.0,398.3L350.5,399.1L351.0,400.0L351.5,400.9L352.0,401.6L352.5,402.5L353.0,404.0L353.5,406.8L354.0,408.0L354.5,408.0L355.0,406.7L355.5,405.4L356.0,404.9L356.5,405.2L357.0,402.3L357.5,396.6L358.0,393.3L358.5,390.8L359.0,387.9L359.5,385.2L360.0,382.1L360.5,379.1L361.0,375.8L361.5,372.4L362.0,368.7L362.5,366.3L363.0,365.5L363.5,362.4L364.0,358.5L364.5,356.5L365.0,355.2L365.5,353.3L366.0,346.3L366.5,340.4L367.0,335.4L367.5,329.8L368.0,303.9L368.5,279.2L369.0,267.8L369.5,254.9L370.0,250.4L370.5,245.1L371.0,240.9L371.5,236.6L372.0,231.3L372.5,226.1L373.0,220.5L373.5,213.8L374.0,208.4L374.5,202.6L375.0,197.2L375.5,193.8L376.0,190.3L376.5,186.4L377.0,182.7L377.5,178.0L378.0,172.5L378.5,169.4L379.0,166.6L379.5,161.5L380.0,157.1L380.5,153.7L381.0,150.2L381.5,148.9L382.0,147.8L382.5,146.6L383.0,146.7L383.5,146.8L384.0,142.9L384.5,138.8L385.0,138.7L385.5,143.2L386.0,145.1L386.5,145.6L387.0,146.2L387.5,146.3L388.0,146.7L388.5,146.9L389.0,145.6L389.5,144.1L390.0,141.5L390.5,144.2L391.0,146.7L391.5,148.6L392.0,149.6L392.5,150.0L393.0,152.3L393.5,153.5L394.0,153.3L394.5,154.3L395.0,160.8L395.5,175.3L396.0,189.0L396.5,198.4L397.0,206.9L397.5,216.9L398.0,224.1L398.5,228.4L399.0,232.1L399.5,236.9L400.0,241.4L400.5,245.4L401.0,251.0L401.5,257.8L402.0,262.9L402.5,269.0L403.0,275.9L403.5,280.4L404.0,286.0L404.5,291.2L405.0,295.7L405.5,300.3L406.0,303.7L406.5,306.6L407.0,308.9L407.5,310.6L408.0,311.9L408.5,313.4L409.0,316.6L409.5,318.6L410.0,317.4L410.5,315.4L411.0,311.2L411.5,305.6L412.0,302.7L412.5,300.0L413.0,295.8L413.5,291.8L414.0,290.6L414.5,291.3L415.0,293.1L415.5,294.7L416.0,296.6L416.5,299.2L417.0,301.6L417.5,303.6L418.0,303.7L418.5,305.0L419.0,306.7L419.5,307.6L420.0,308.1L420.5,310.7L421.0,313.9L421.5,314.5L422.0,315.0L422.5,316.5L423.0,318.4L423.5,320.4L424.0,320.3L424.5,320.4L425.0,321.6L425.5,322.9L426.0,324.7L426.5,326.1L427.0,326.5L427.5,326.4L428.0,328.2L428.5,330.7L429.0,331.8L429.5,333.2L430.0,335.2L430.5,337.2L431.0,338.6L431.5,340.0L432.0,342.2L432.5,343.6L433.0,346.2L433.5,349.1L434.0,351.6L434.5,353.1L435.0,354.4L435.5,357.5L436.0,359.2L436.5,361.6L437.0,365.1L437.5,367.6L438.0,370.4L438.5,372.1L439.0,374.9L439.5,379.0L440.0,382.2L440.5,385.7L441.0,388.0L441.5,390.3L442.0,391.3L442.5,393.7L443.0,398.3L443.5,401.0L444.0,403.1L444.5,402.5L445.0,402.3L445.5,402.6L446.0,403.2L446.5,403.6L447.0,403.4L447.5,402.4L448.0,403.6L448.5,403.9L449.0,401.5L449.5,402.7L450.0,404.7L450.5,403.9L451.0,403.7L451.5,403.8L452.0,402.6L452.5,402.3L453.0,402.0L453.5,401.4L454.0,401.9L454.5,377.3L455.0,353.0L455.5,352.1L456.0,351.3L456.5,350.1L457.0,348.8L457.5,349.9L458.0,350.7L458.5,350.5L459.0,350.2L459.5,348.8L460.0,348.1L460.5,347.7L461.0,348.1L461.5,349.9L462.0,349.9L462.5,349.9L463.0,351.0L463.5,352.5L464.0,353.0L464.5,353.1L465.0,353.7L465.5,354.7L466.0,355.0L466.5,354.9L467.0,354.4L467.5,352.8L468.0,352.3L468.5,352.9L469.0,352.5L469.5,352.1L470.0,280.2L470.5,191.3L471.0,191.7L471.5,190.9L472.0,190.9L472.5,191.1L473.0,190.5L473.5,190.5L474.0,190.6L474.5,190.0L475.0,189.5L475.5,188.5L476.0,188.5L476.5,188.9L477.0,188.1L477.5,188.5L478.0,188.7L478.5,187.0L479.0,186.5L479.5,186.8L480.0,186.8L480.5,186.1L481.0,185.8L481.5,185.2L482.0,215.6L482.5,229.6L483.0,230.3L483.5,231.4L484.0,233.1L484.5,233.4L485.0,232.4L485.5,234.2L486.0,237.3L486.5,235.1L487.0,233.6L487.5,233.9L488.0,232.1L488.5,230.8L489.0,231.6L489.5,231.3L490.0,230.4L490.5,231.5L491.0,231.7L491.5,230.5L492.0,232.2L492.5,233.3L493.0,233.0L493.5,234.7L494.0,236.3L494.5,237.1L495.0,238.0L495.5,239.7L496.0,242.7L496.5,243.5L497.0,389.1L497.5,395.6L498.0,396.0L498.5,396.1L499.0,396.7L499.5,397.0L500.0,397.3L500.5,397.4L501.0,398.1L501.5,397.6L502.0,397.0L502.5,397.6L503.0,396.7L503.5,395.8L504.0,396.1L504.5,396.2L505.0,396.8L505.5,397.0L506.0,397.9L506.5,382.5L507.0,375.8L507.5,377.5L508.0,377.5L508.5,377.7L509.0,376.4L509.5,375.0L510.0,377.7L510.5,379.2L511.0,378.9L511.5,377.8L512.0,377.6L512.5,378.7L513.0,379.2L513.5,379.5L514.0,379.2L514.5,379.4L515.0,380.8L515.5,382.3L516.0,382.3L516.5,374.2L517.0,366.7L517.5,358.8L518.0,355.6L518.5,354.2L519.0,354.3L519.5,351.6L520.0,346.6L520.5,344.8L521.0,344.1L521.5,341.7L522.0,340.9L522.5,339.8L523.0,334.8L523.5,328.8L524.0,323.4L524.5,318.4L525.0,314.0L525.5,307.4L526.0,298.1L526.5,294.2L527.0,293.7L527.5,292.9L528.0,293.2L528.5,293.1L529.0,292.1L529.5,292.7L530.0,294.7L530.5,296.0L531.0,295.2L531.5,296.1L532.0,298.6L532.5,298.9L533.0,297.6L533.5,297.7L534.0,298.9L534.5,301.1L535.0,301.7L535.5,301.2L536.0,301.4L536.5,300.7L537.0,301.6L537.5,302.3L538.0,301.7L538.5,300.6L539.0,293.3L539.5,280.6L540.0,271.5L540.5,269.5L541.0,263.7L541.5,261.3L542.0,259.5L542.5,257.3L543.0,254.6L543.5,253.1L544.0,252.9L544.5,251.7L545.0,250.7L545.5,250.0L546.0,248.2L546.5,247.8L547.0,247.2L547.5,247.1L548.0,250.0L548.5,254.1L549.0,260.1L549.5,264.8L550.0,267.6L550.5,269.1L551.0,270.4L551.5,273.9L552.0,280.2L552.5,287.2L553.0,293.0L553.5,298.0L554.0,302.5L554.5,305.0L555.0,304.8L555.5,306.1L556.0,305.9L556.5,304.5L557.0,303.9L557.5,304.4L558.0,304.9L558.5,305.2L559.0,304.6L559.5,303.4L560.0,302.5L560.5,301.0L561.0,299.6L561.5,297.9L562.0,296.0L562.5,294.4L563.0,293.4L563.5,293.1L564.0,293.0L564.5,292.8L565.0,298.0L565.5,307.0L566.0,309.1L566.5,309.9L567.0,311.2L567.5,312.1L568.0,345.8L568.5,350.0L569.0,355.3L569.5,355.4L570.0,354.4L570.5,354.9L571.0,355.2L571.5,353.9L572.0,354.0L572.5,354.4L573.0,354.5L573.5,354.6L574.0,354.4L574.5,357.0L575.0,359.6L575.5,360.3L576.0,360.5L576.5,360.1L577.0,360.6L577.5,359.8L578.0,359.3L578.5,360.8L579.0,361.0L579.5,361.0L580.0,360.1L580.5,330.1L581.0,329.5L581.5,328.7L582.0,328.5L582.5,327.6L583.0,326.2L583.5,324.8L584.0,323.9L584.5,324.4L585.0,326.0L585.5,326.2L586.0,326.6L586.5,326.9L587.0,326.5L587.5,312.4L588.0,298.1L588.5,296.6L589.0,307.6L589.5,317.9L590.0,318.1L590.5,318.0L591.0,317.9L591.5,318.5L592.0,319.9L592.5,319.5L593.0,329.1L593.5,342.2L594.0,347.4L594.5,345.6L595.0,346.1L595.5,346.4L596.0,346.6L596.5,346.1L597.0,344.8L597.5,344.8L598.0,344.6L598.5,343.7L599.0,342.8L599.5,342.0L600.0,341.0L600.5,341.3L601.0,341.1L601.5,339.3L602.0,337.7L602.5,335.3L603.0,335.4L603.5,336.8L604.0,337.4L604.5,337.0L605.0,336.8L605.5,336.7L606.0,337.1L606.5,330.4L607.0,315.4L607.5,335.4L608.0,345.0L608.5,344.8L609.0,345.1L609.5,345.3L610.0,345.6L610.5,345.8L611.0,345.7L611.5,345.4L612.0,346.4L612.5,347.3L613.0,345.4L613.5,345.0L614.0,353.5L614.5,367.7L615.0,380.3L615.5,378.7L616.0,379.5L616.5,380.4L617.0,379.8L617.5,380.2L618.0,381.3L618.5,380.9L619.0,380.6L619.5,379.4L620.0,378.7L620.5,377.4L621.0,377.4L621.5,378.7L622.0,377.7L622.5,375.9L623.0,375.0L623.5,375.5L624.0,374.1L624.5,373.1L625.0,373.5L625.5,373.2L626.0,372.8L626.5,374.2L627.0,375.3L627.5,375.7L628.0,367.4L628.5,358.1L629.0,353.8L629.5,353.8L630.0,353.4L630.5,353.8L631.0,354.6L631.5,354.2L632.0,354.2L632.5,353.1L633.0,351.7L633.5,352.3L634.0,351.0L634.5,359.9L635.0,380.9L635.5,381.7L636.0,382.0L636.5,381.8L637.0,381.2L637.5,380.2L638.0,380.2L638.5,381.7L639.0,381.8L639.5,380.3L640.0,379.9L640.5,380.4L641.0,380.8L641.5,380.1L642.0,379.5L642.5,368.9L643.0,357.2L643.5,356.2L644.0,355.5L644.5,355.0L645.0,354.7L645.5,333.0L646.0,322.3L646.5,324.0L647.0,324.2L647.5,322.4L648.0,323.3L648.5,324.3L649.0,323.7L649.5,324.3L650.0,324.0L650.5,323.3L651.0,323.2L651.5,324.0L652.0,324.5L652.5,324.3L653.0,325.7L653.5,326.1L654.0,325.5L654.5,326.7L655.0,326.3L655.5,340.2L656.0,347.5L656.5,347.4L657.0,348.1L657.5,348.2L658.0,346.7L658.5,345.4L659.0,345.5L659.5,346.4L660.0,345.3L660.5,345.9L661.0,347.2L661.5,347.0L662.0,347.5L662.5,347.8L663.0,348.5L663.5,350.3L664.0,350.5L664.5,350.3L665.0,351.8L665.5,352.3L666.0,353.0L666.5,353.7L667.0,355.2L667.5,357.3L668.0,357.1L668.5,358.4L669.0,359.5L669.5,358.5L670.0,359.0L670.5,360.6L671.0,360.5L671.5,360.5L672.0,372.4L672.5,392.7L673.0,392.1L673.5,392.9L674.0,393.6L674.5,394.2L675.0,394.6L675.5,395.0L676.0,396.1L676.5,396.7L677.0,398.8L677.5,399.5L678.0,399.0L678.5,399.8L679.0,399.9L679.5,397.8L680.0,397.2L680.5,396.9L681.0,394.5L681.5,394.5L682.0,394.2L682.5,392.2L683.0,392.3L683.5,391.7L684.0,390.5L684.5,390.5L685.0,392.2L685.5,392.2L686.0,392.1L686.5,392.8L687.0,391.2L687.5,390.9L688.0,390.8L688.5,390.6L689.0,391.7L689.5,391.2L690.0,390.0L690.5,389.9L691.0,390.2L691.5,390.3L692.0,390.1L692.5,389.7L693.0,389.2L693.5,387.6L694.0,387.4L694.5,388.7L695.0,387.8L695.5,386.1L696.0,385.1L696.5,386.3L697.0,386.5L697.5,392.2L698.0,399.0L698.5,404.5L699.0,404.7L699.5,406.2L700.0,407.4L700.5,406.9L701.0,405.9L701.5,406.8L702.0,407.7L702.5,407.2L703.0,407.4L703.5,394.4L704.0,382.0L704.5,381.7L705.0,380.5L705.5,379.3L706.0,378.9L706.5,379.2L707.0,377.7L707.5,377.0L708.0,377.4L708.5,378.3L709.0,378.9L709.5,378.1L710.0,378.4L710.5,379.3L711.0,378.7L711.5,378.2L712.0,379.1L712.5,380.2L713.0,379.7L713.5,377.9L714.0,376.5L714.5,374.3L715.0,372.6L715.5,371.8L716.0,371.0L716.5,369.4L717.0,367.9L717.5,366.2L718.0,365.1L718.5,363.0L719.0,361.8L719.5,361.0L720.0,359.4L720.5,359.0L721.0,357.3L721.5,355.8L722.0,353.5L722.5,352.5L723.0,351.8L723.5,349.4L724.0,347.5L724.5,345.2L725.0,342.0L725.5,339.6L726.0,338.4L726.5,335.3L727.0,333.4L727.5,332.6L728.0,328.7L728.5,319.7L729.0,310.8L729.5,312.8L730.0,315.6L730.5,318.1L731.0,318.9L731.5,320.5L732.0,322.4L732.5,322.1L733.0,322.3L733.5,322.9L734.0,324.2L734.5,325.2L735.0,325.0L735.5,324.0L736.0,321.9L736.5,321.3L737.0,320.1L737.5,317.5L738.0,316.8L738.5,317.1L739.0,314.8L739.5,311.7L740.0,309.8L740.5,311.2L741.0,312.3L741.5,314.8L742.0,317.1L742.5,319.2L743.0,322.7L743.5,324.2L744.0,324.3L744.5,325.7L745.0,327.5L745.5,329.8L746.0,331.2L746.5,332.5L747.0,333.3L747.5,333.9L748.0,335.9L748.5,338.0L749.0,338.7L749.5,339.9L750.0,341.0L750.5,341.4L751.0,343.0L751.5,344.8L752.0,345.3L752.5,345.0L753.0,346.4L753.5,349.2L754.0,351.6L754.5,352.3L755.0,353.3L755.5,355.1L756.0,358.3L756.5,362.3L757.0,364.7L757.5,366.2L758.0,369.0L758.5,371.5L759.0,373.3L759.5,373.8L760.0,375.5L760.5,378.2L761.0,379.1L761.5,379.4L762.0,381.6L762.5,382.3L763.0,381.2L763.5,380.9L764.0,380.5L764.5,380.4L765.0,380.5L765.5,380.9L766.0,384.1L766.5,386.1L767.0,388.9L767.5,392.9L768.0,395.4L768.5,393.0L769.0,392.3L769.5,390.8L770.0,388.2L770.5,386.5L771.0,385.6L771.5,383.9L772.0,381.7L772.5,372.7L773.0,362.1L773.5,351.6L774.0,353.0L774.5,352.5L775.0,351.9L775.5,352.2L776.0,353.0L776.5,353.5L777.0,354.0L777.5,354.9L778.0,354.5L778.5,353.9L779.0,354.4L779.5,353.2L780.0,352.9L780.5,353.0L781.0,352.7L781.5,353.1L782.0,354.1L782.5,359.8L783.0,364.3L783.5,365.2L784.0,365.7L784.5,364.6L785.0,365.4L785.5,366.9L786.0,366.3L786.5,364.9L787.0,364.9L787.5,365.4L788.0,366.9L788.5,367.1L789.0,366.8L789.5,368.0L790.0,367.9L790.5,367.5L791.0,368.1L791.5,368.5L792.0,367.1L792.5,367.3L793.0,367.1L793.5,366.2L794.0,368.0L794.5,368.0L795.0,368.8L795.5,371.8L796.0,371.7L796.5,370.1L797.0,371.8L797.5,373.8L798.0,373.7L798.5,374.3L799.0,375.5L799.5,376.5L800.0,378.6L800.5,380.9L801.0,381.4L801.5,379.7L802.0,379.0L802.5,379.6L803.0,377.7L803.5,375.3L804.0,375.2L804.5,371.8L805.0,367.9L805.5,364.5L806.0,362.2L806.5,359.4L807.0,357.5L807.5,354.3L808.0,351.4L808.5,351.2L809.0,348.8L809.5,346.1L810.0,344.9L810.5,342.7L811.0,340.0L811.5,338.2L812.0,335.8L812.5,332.2L813.0,328.1L813.5,325.4L814.0,322.2L814.5,318.4L815.0,316.8L815.5,314.1L816.0,311.3L816.5,311.0L817.0,310.6L817.5,308.5L818.0,306.1L818.5,305.6L819.0,304.6L819.5,303.6L820.0,303.8L820.5,303.3L821.0,303.2L821.5,303.8L822.0,303.3L822.5,303.3L823.0,303.9L823.5,303.6L824.0,303.0L824.5,305.8L825.0,308.0L825.5,309.5L826.0,306.4L826.5,296.2L827.0,287.5L827.5,281.2L828.0,274.9L828.5,269.0L829.0,260.9L829.5,253.1L830.0,247.6L830.5,240.9L831.0,245.7L831.5,250.8L832.0,258.2L832.5,268.0L833.0,276.1L833.5,281.7L834.0,284.9L834.5,287.1L835.0,290.8L835.5,293.5L836.0,296.2L836.5,298.4L837.0,301.0L837.5,303.9L838.0,306.4L838.5,308.5L839.0,311.7L839.5,313.7L840.0,315.8L840.5,319.1L841.0,320.2L841.5,322.3L842.0,326.3L842.5,328.1L843.0,328.4L843.5,330.4L844.0,333.0L844.5,335.8L845.0,337.6L845.5,339.8L846.0,342.7L846.5,345.5L847.0,347.0L847.5,345.9L848.0,346.2L848.5,347.6L849.0,347.2L849.5,345.6L850.0,345.3L850.5,348.7L851.0,351.8L851.5,353.6L852.0,356.0L852.5,358.1L853.0,358.9L853.5,369.5L854.0,379.9L854.5,390.4L855.0,401.4L855.5,406.6L856.0,411.9L856.5,418.5L857.0,425.8L857.5,432.0L858.0,440.1L858.5,423.0L859.0,408.5L859.5,392.5L860.0,390.1L860.5,387.5L861.0,386.1L861.5,385.5L862.0,384.2L862.5,382.4L863.0,381.7L863.5,381.6L864.0,381.4L864.5,381.2L865.0,381.0L865.5,381.6L866.0,381.7L866.5,381.0L867.0,381.1L867.5,380.1L868.0,378.5L868.5,378.3L869.0,377.3L869.5,374.5L870.0,370.4L870.5,367.3L871.0,364.4L871.5,362.5L872.0,361.9L872.5,359.4L873.0,359.9L873.5,361.5L874.0,362.1L874.5,361.6L875.0,360.1L875.5,360.8L876.0,358.7L876.5,356.5L877.0,356.6L877.5,357.3L878.0,358.0L878.5,357.7L879.0,355.0L879.5,350.7L880.0,348.0L880.5,344.7L881.0,341.3L881.5,338.8L882.0,335.3L882.5,331.1L883.0,329.0L883.5,327.4L884.0,324.8L884.5,321.6L885.0,319.3L885.5,316.7L886.0,314.9L886.5,313.4L887.0,310.6L887.5,308.9L888.0,308.4L888.5,307.9L889.0,306.1L889.5,304.2L890.0,302.6L890.5,301.4L891.0,299.3L891.5,296.5L892.0,295.8L892.5,295.1L893.0,294.0L893.5,293.2L894.0,291.1L894.5,289.5L895.0,288.3L895.5,287.8L896.0,286.6L896.5,283.7L897.0,283.3L897.5,281.2L898.0,279.9L898.5,279.8L899.0,277.3L899.5,275.7L900.0,274.7L900.5,273.9L901.0,272.2L901.5,270.4L902.0,268.9L902.5,266.2L903.0,264.3L903.5,261.4L904.0,258.1L904.5,257.0L905.0,255.0L905.5,253.1L906.0,251.2L906.5,247.6L907.0,245.6L907.5,243.8L908.0,241.5L908.5,239.7L909.0,236.9L909.5,232.2L910.0,228.6L910.5,226.5L911.0,225.6L911.5,225.6L912.0,224.6L912.5,222.7L913.0,225.2L913.5,228.2L914.0,231.5L914.5,235.0L914.5,468.0Z" fill="#6ac6bc"/>
<path d="M109.5,468.0L109.5,468.0L110.0,456.9L110.5,456.7L111.0,456.5L111.5,456.3L112.0,456.1L112.5,455.9L113.0,455.7L113.5,455.6L114.0,455.4L114.5,455.2L115.0,455.0L115.5,454.8L116.0,454.6L116.5,454.5L117.0,454.3L117.5,454.1L118.0,453.9L118.5,452.5L119.0,446.2L119.5,446.0L120.0,445.8L120.5,445.6L121.0,445.4L121.5,445.2L122.0,445.0L122.5,444.8L123.0,444.6L123.5,443.5L124.0,439.0L124.5,438.8L125.0,438.7L125.5,438.5L126.0,438.3L126.5,438.2L127.0,438.0L127.5,423.0L128.0,422.9L128.5,422.8L129.0,422.6L129.5,422.5L130.0,422.4L130.5,422.3L131.0,422.1L131.5,422.0L132.0,421.9L132.5,406.9L133.0,406.9L133.5,406.9L134.0,406.9L134.5,406.9L135.0,407.0L135.5,407.0L136.0,407.0L136.5,407.0L137.0,407.0L137.5,407.0L138.0,377.7L138.5,377.6L139.0,377.5L139.5,377.4L140.0,377.4L140.5,377.3L141.0,377.2L141.5,377.1L142.0,377.0L142.5,361.2L143.0,361.6L143.5,361.9L144.0,362.3L144.5,362.6L145.0,363.0L145.5,362.9L146.0,362.9L146.5,362.8L147.0,362.8L147.5,363.2L148.0,363.8L148.5,364.4L149.0,365.0L149.5,365.6L150.0,366.2L150.5,366.6L151.0,366.8L151.5,367.0L152.0,367.2L152.5,367.4L153.0,367.6L153.5,370.5L154.0,384.0L154.5,383.9L155.0,383.9L155.5,383.8L156.0,383.8L156.5,383.7L157.0,383.6L157.5,383.6L158.0,383.5L158.5,383.5L159.0,383.4L159.5,392.2L160.0,394.0L160.5,394.0L161.0,394.0L161.5,394.0L162.0,394.0L162.5,394.0L163.0,394.0L163.5,396.7L164.0,410.0L164.5,428.8L165.0,432.5L165.5,432.5L166.0,432.5L166.5,432.5L167.0,432.5L167.5,432.5L168.0,432.5L168.5,432.5L169.0,432.5L169.5,450.1L170.0,450.1L170.5,450.2L171.0,450.3L171.5,450.4L172.0,450.5L172.5,450.6L173.0,452.5L173.5,455.6L174.0,455.6L174.5,455.6L175.0,455.6L175.5,455.6L176.0,455.6L176.5,455.6L177.0,452.5L177.5,452.4L178.0,452.3L178.5,452.3L179.0,452.2L179.5,452.2L180.0,452.1L180.5,452.1L181.0,452.0L181.5,452.0L182.0,451.9L182.5,451.8L183.0,451.8L183.5,451.7L184.0,451.7L184.5,451.6L185.0,451.6L185.5,451.5L186.0,451.4L186.5,451.4L187.0,451.3L187.5,451.3L188.0,455.6L188.5,455.6L189.0,455.6L189.5,455.6L190.0,455.6L190.5,455.6L191.0,454.3L191.5,448.0L192.0,447.7L192.5,447.4L193.0,447.1L193.5,446.8L194.0,446.5L194.5,446.2L195.0,445.9L195.5,445.6L196.0,445.3L196.5,445.0L197.0,445.0L197.5,445.0L198.0,445.0L198.5,445.0L199.0,445.0L199.5,445.0L200.0,445.0L200.5,445.0L201.0,445.0L201.5,445.0L202.0,445.0L202.5,445.0L203.0,445.0L203.5,445.0L204.0,445.0L204.5,447.5L205.0,447.5L205.5,447.5L206.0,447.5L206.5,447.5L207.0,447.5L207.5,447.5L208.0,447.5L208.5,447.4L209.0,447.4L209.5,447.3L210.0,447.2L210.5,447.2L211.0,447.1L211.5,447.0L212.0,447.0L212.5,446.9L213.0,446.5L213.5,445.8L214.0,445.0L214.5,444.0L215.0,443.0L215.5,442.0L216.0,441.0L216.5,440.0L217.0,438.5L217.5,437.0L218.0,435.5L218.5,434.0L219.0,432.5L219.5,431.5L220.0,430.5L220.5,429.5L221.0,428.5L221.5,427.5L222.0,426.5L222.5,426.1L223.0,425.9L223.5,425.6L224.0,425.4L224.5,425.2L225.0,425.0L225.5,424.7L226.0,424.5L226.5,424.3L227.0,424.1L227.5,423.9L228.0,423.5L228.5,422.9L229.0,422.3L229.5,421.7L230.0,421.1L230.5,420.5L231.0,419.9L231.5,419.3L232.0,418.8L232.5,417.7L233.0,416.2L233.5,414.2L234.0,412.7L234.5,412.0L235.0,410.8L235.5,408.7L236.0,407.4L236.5,407.1L237.0,406.6L237.5,406.5L238.0,406.5L238.5,406.1L239.0,406.0L239.5,405.9L240.0,405.2L240.5,405.1L241.0,405.2L241.5,405.5L242.0,404.7L242.5,403.9L243.0,403.9L243.5,403.8L244.0,404.0L244.5,403.5L245.0,403.3L245.5,403.1L246.0,403.0L246.5,402.8L247.0,402.8L247.5,402.3L248.0,401.4L248.5,402.3L249.0,402.9L249.5,402.4L250.0,402.0L250.5,402.4L251.0,402.4L251.5,402.0L252.0,401.3L252.5,400.7L253.0,400.7L253.5,399.9L254.0,398.6L254.5,397.8L255.0,397.2L255.5,395.4L256.0,393.4L256.5,392.5L257.0,391.3L257.5,390.7L258.0,390.6L258.5,390.7L259.0,390.9L259.5,390.3L260.0,390.6L260.5,392.9L261.0,394.3L261.5,395.5L262.0,397.1L262.5,397.9L263.0,399.0L263.5,399.5L264.0,399.8L264.5,400.5L265.0,401.0L265.5,401.6L266.0,402.0L266.5,402.4L267.0,403.2L267.5,403.5L268.0,403.7L268.5,403.8L269.0,404.0L269.5,404.3L270.0,404.5L270.5,405.0L271.0,405.4L271.5,406.0L272.0,406.2L272.5,406.3L273.0,407.4L273.5,408.8L274.0,409.5L274.5,410.3L275.0,410.8L275.5,409.9L276.0,410.2L276.5,411.1L277.0,411.0L277.5,411.2L278.0,411.4L278.5,411.1L279.0,410.6L279.5,410.1L280.0,409.2L280.5,408.5L281.0,408.0L281.5,407.5L282.0,407.4L282.5,406.7L283.0,405.8L283.5,404.7L284.0,403.6L284.5,403.2L285.0,402.9L285.5,402.6L286.0,401.1L286.5,400.4L287.0,401.2L287.5,401.5L288.0,401.6L288.5,402.1L289.0,401.9L289.5,401.6L290.0,401.9L290.5,402.4L291.0,402.7L291.5,403.1L292.0,403.1L292.5,403.3L293.0,403.7L293.5,404.2L294.0,404.8L294.5,404.8L295.0,404.6L295.5,404.1L296.0,404.8L296.5,405.3L297.0,404.9L297.5,405.6L298.0,406.5L298.5,406.6L299.0,406.3L299.5,406.5L300.0,406.9L300.5,407.4L301.0,407.7L301.5,407.2L302.0,407.4L302.5,407.5L303.0,407.1L303.5,407.5L304.0,407.8L304.5,407.7L305.0,407.1L305.5,407.3L306.0,407.7L306.5,407.3L307.0,406.9L307.5,406.6L308.0,406.7L308.5,406.3L309.0,409.2L309.5,411.9L310.0,414.9L310.5,417.8L311.0,419.7L311.5,422.3L312.0,425.0L312.5,427.2L313.0,429.4L313.5,427.2L314.0,424.9L314.5,422.6L315.0,419.8L315.5,417.3L316.0,416.8L316.5,415.7L317.0,414.9L317.5,414.0L318.0,413.5L318.5,412.8L319.0,411.5L319.5,410.6L320.0,409.8L320.5,408.4L321.0,409.1L321.5,410.5L322.0,411.7L322.5,412.7L323.0,412.7L323.5,409.5L324.0,406.8L324.5,404.4L325.0,402.0L325.5,400.1L326.0,399.9L326.5,399.1L327.0,398.7L327.5,397.9L328.0,397.3L328.5,397.1L329.0,396.6L329.5,396.0L330.0,395.0L330.5,393.9L331.0,394.3L331.5,394.9L332.0,394.9L332.5,395.0L333.0,395.5L333.5,395.6L334.0,395.9L334.5,395.4L335.0,394.2L335.5,393.1L336.0,391.7L336.5,391.1L337.0,389.9L337.5,388.5L338.0,387.7L338.5,387.0L339.0,386.3L339.5,385.2L340.0,384.6L340.5,383.7L341.0,382.4L341.5,384.8L342.0,387.3L342.5,389.4L343.0,391.9L343.5,395.0L344.0,395.4L344.5,395.0L345.0,395.1L345.5,395.9L346.0,396.7L346.5,397.1L347.0,397.8L347.5,398.5L348.0,399.0L348.5,399.9L349.0,400.9L349.5,401.5L350.0,402.5L350.5,403.4L351.0,403.8L351.5,404.6L352.0,405.8L352.5,407.4L353.0,409.2L353.5,411.4L354.0,413.1L354.5,413.5L355.0,413.0L355.5,412.1L356.0,410.7L356.5,409.6L357.0,407.5L357.5,402.9L358.0,397.7L358.5,394.8L359.0,391.6L359.5,388.7L360.0,386.1L360.5,382.6L361.0,379.5L361.5,376.5L362.0,373.9L362.5,372.3L363.0,370.3L363.5,367.7L364.0,366.1L364.5,364.6L365.0,362.7L365.5,360.6L366.0,357.8L366.5,355.8L367.0,354.4L367.5,352.9L368.0,350.8L368.5,342.6L369.0,334.5L369.5,290.5L370.0,286.6L370.5,282.8L371.0,279.3L371.5,275.9L372.0,272.8L372.5,268.2L373.0,262.7L373.5,258.4L374.0,254.6L374.5,249.6L375.0,245.2L375.5,240.1L376.0,234.4L376.5,229.8L377.0,225.2L377.5,220.3L378.0,215.0L378.5,209.2L379.0,204.2L379.5,200.2L380.0,195.8L380.5,192.0L381.0,187.8L381.5,186.2L382.0,183.9L382.5,180.5L383.0,178.9L383.5,178.7L384.0,177.8L384.5,176.7L385.0,176.7L385.5,176.8L386.0,176.9L386.5,177.8L387.0,177.9L387.5,177.7L388.0,178.0L388.5,178.5L389.0,179.1L389.5,180.0L390.0,180.3L390.5,180.9L391.0,181.5L391.5,183.8L392.0,186.1L392.5,187.1L393.0,188.6L393.5,191.2L394.0,194.2L394.5,197.0L395.0,199.8L395.5,207.4L396.0,233.7L396.5,251.3L397.0,256.8L397.5,261.0L398.0,264.4L398.5,267.0L399.0,270.6L399.5,274.3L400.0,278.0L400.5,281.4L401.0,285.3L401.5,289.1L402.0,292.8L402.5,296.4L403.0,300.3L403.5,303.8L404.0,306.5L404.5,309.6L405.0,312.8L405.5,316.4L406.0,319.6L406.5,321.9L407.0,323.7L407.5,325.5L408.0,327.0L408.5,328.7L409.0,330.4L409.5,328.3L410.0,326.7L410.5,324.3L411.0,322.1L411.5,320.4L412.0,318.3L412.5,316.5L413.0,314.4L413.5,312.9L414.0,311.4L414.5,310.0L415.0,311.3L415.5,312.2L416.0,313.2L416.5,314.1L417.0,315.6L417.5,316.5L418.0,317.0L418.5,318.2L419.0,319.4L419.5,321.0L420.0,322.7L420.5,323.8L421.0,324.5L421.5,324.9L422.0,326.4L422.5,328.4L423.0,329.5L423.5,330.8L424.0,332.0L424.5,332.9L425.0,333.9L425.5,334.7L426.0,335.7L426.5,336.8L427.0,337.8L427.5,339.0L428.0,340.0L428.5,341.5L429.0,343.4L429.5,344.7L430.0,346.2L430.5,347.7L431.0,349.7L431.5,351.5L432.0,353.4L432.5,355.5L433.0,357.0L433.5,359.2L434.0,361.2L434.5,363.1L435.0,365.4L435.5,367.6L436.0,370.0L436.5,372.7L437.0,375.3L437.5,378.5L438.0,381.8L438.5,384.7L439.0,387.7L439.5,390.9L440.0,394.0L440.5,396.4L441.0,398.3L441.5,399.9L442.0,402.1L442.5,403.9L443.0,405.3L443.5,407.5L444.0,410.0L444.5,410.8L445.0,411.4L445.5,411.7L446.0,412.4L446.5,413.1L447.0,413.4L447.5,414.2L448.0,414.6L448.5,414.9L449.0,415.0L449.5,414.7L450.0,415.5L450.5,416.1L451.0,416.3L451.5,416.8L452.0,417.0L452.5,417.1L453.0,417.6L453.5,417.8L454.0,417.7L454.5,395.2L455.0,372.4L455.5,372.3L456.0,372.8L456.5,373.3L457.0,373.3L457.5,373.2L458.0,373.7L458.5,373.5L459.0,373.3L459.5,374.0L460.0,374.0L460.5,374.2L461.0,375.0L461.5,374.4L462.0,373.9L462.5,374.2L463.0,373.8L463.5,374.6L464.0,375.4L464.5,374.4L465.0,373.5L465.5,373.5L466.0,374.3L466.5,375.1L467.0,375.1L467.5,374.9L468.0,375.0L468.5,375.0L469.0,374.5L469.5,362.9L470.0,352.0L470.5,352.0L471.0,351.6L471.5,351.8L472.0,351.7L472.5,351.3L473.0,350.3L473.5,350.0L474.0,350.9L474.5,350.9L475.0,350.5L475.5,350.3L476.0,350.1L476.5,350.1L477.0,349.6L477.5,349.1L478.0,349.3L478.5,349.1L479.0,349.3L479.5,348.7L480.0,347.9L480.5,348.3L481.0,348.2L481.5,347.5L482.0,347.3L482.5,389.6L483.0,390.1L483.5,390.2L484.0,390.2L484.5,390.1L485.0,390.4L485.5,390.5L486.0,390.2L486.5,390.0L487.0,389.7L487.5,390.4L488.0,390.6L488.5,390.1L489.0,390.3L489.5,390.3L490.0,390.2L490.5,390.1L491.0,389.9L491.5,390.2L492.0,390.0L492.5,389.7L493.0,390.3L493.5,390.8L494.0,390.0L494.5,390.2L495.0,390.5L495.5,389.9L496.0,389.6L496.5,389.9L497.0,390.4L497.5,399.3L498.0,403.2L498.5,406.8L499.0,410.7L499.5,411.6L500.0,412.1L500.5,413.1L501.0,414.0L501.5,414.6L502.0,415.3L502.5,414.9L503.0,414.4L503.5,413.7L504.0,413.1L504.5,412.2L505.0,411.5L505.5,411.1L506.0,402.1L506.5,392.7L507.0,387.7L507.5,388.8L508.0,389.1L508.5,389.1L509.0,389.5L509.5,389.2L510.0,388.8L510.5,388.8L511.0,389.1L511.5,389.0L512.0,389.0L512.5,388.7L513.0,389.0L513.5,389.3L514.0,388.2L514.5,388.0L515.0,388.3L515.5,388.2L516.0,387.5L516.5,387.2L517.0,387.6L517.5,379.3L518.0,370.6L518.5,368.2L519.0,365.3L519.5,362.4L520.0,360.2L520.5,358.2L521.0,355.4L521.5,351.6L522.0,348.9L522.5,346.1L523.0,343.0L523.5,339.7L524.0,336.8L524.5,332.5L525.0,327.5L525.5,322.7L526.0,319.2L526.5,317.2L527.0,316.3L527.5,316.2L528.0,315.9L528.5,315.3L529.0,315.5L529.5,315.3L530.0,315.2L530.5,315.2L531.0,315.0L531.5,314.7L532.0,314.9L532.5,318.7L533.0,321.7L533.5,323.9L534.0,325.6L534.5,325.5L535.0,325.3L535.5,325.4L536.0,325.0L536.5,324.6L537.0,324.3L537.5,323.8L538.0,315.1L538.5,307.1L539.0,295.0L539.5,277.6L540.0,268.5L540.5,266.5L541.0,264.9L541.5,263.5L542.0,262.1L542.5,260.7L543.0,259.2L543.5,257.7L544.0,256.4L544.5,256.7L545.0,256.3L545.5,255.8L546.0,255.3L546.5,254.4L547.0,255.6L547.5,261.1L548.0,265.5L548.5,269.0L549.0,272.7L549.5,277.0L550.0,281.4L550.5,286.5L551.0,291.0L551.5,296.6L552.0,302.5L552.5,307.9L553.0,312.0L553.5,316.4L554.0,321.6L554.5,326.7L555.0,331.1L555.5,334.0L556.0,334.1L556.5,333.9L557.0,334.2L557.5,335.1L558.0,335.4L558.5,335.4L559.0,336.5L559.5,337.2L560.0,337.4L560.5,332.5L561.0,327.4L561.5,322.6L562.0,318.7L562.5,318.3L563.0,318.4L563.5,317.9L564.0,317.0L564.5,316.6L565.0,319.4L565.5,324.3L566.0,329.7L566.5,336.3L567.0,342.9L567.5,349.0L568.0,355.0L568.5,371.4L569.0,380.3L569.5,381.4L570.0,382.2L570.5,383.2L571.0,383.9L571.5,385.0L572.0,386.5L572.5,387.7L573.0,388.7L573.5,389.3L574.0,391.2L574.5,393.6L575.0,394.9L575.5,394.9L576.0,395.2L576.5,394.6L577.0,394.1L577.5,393.7L578.0,394.3L578.5,394.6L579.0,394.4L579.5,394.3L580.0,376.1L580.5,357.5L581.0,357.1L581.5,356.8L582.0,356.3L582.5,356.8L583.0,356.4L583.5,356.0L584.0,356.3L584.5,355.6L585.0,355.2L585.5,355.2L586.0,355.1L586.5,353.0L587.0,348.7L587.5,344.9L588.0,344.6L588.5,344.5L589.0,344.4L589.5,344.1L590.0,343.7L590.5,343.5L591.0,343.9L591.5,343.6L592.0,342.8L592.5,342.3L593.0,347.8L593.5,353.8L594.0,359.4L594.5,361.9L595.0,362.2L595.5,362.3L596.0,362.2L596.5,362.8L597.0,362.6L597.5,361.5L598.0,361.4L598.5,361.4L599.0,361.0L599.5,361.0L600.0,360.6L600.5,360.3L601.0,360.2L601.5,360.4L602.0,360.9L602.5,360.9L603.0,361.0L603.5,360.5L604.0,360.3L604.5,361.2L605.0,360.4L605.5,359.6L606.0,360.0L606.5,360.2L607.0,360.0L607.5,360.3L608.0,366.4L608.5,366.3L609.0,366.5L609.5,366.3L610.0,365.6L610.5,365.6L611.0,366.3L611.5,366.9L612.0,367.0L612.5,367.3L613.0,367.5L613.5,367.2L614.0,367.5L614.5,367.9L615.0,386.4L615.5,405.3L616.0,405.4L616.5,404.6L617.0,404.8L617.5,405.5L618.0,405.5L618.5,405.4L619.0,405.6L619.5,405.7L620.0,406.0L620.5,406.0L621.0,406.2L621.5,404.5L622.0,401.1L622.5,397.8L623.0,396.8L623.5,395.9L624.0,395.9L624.5,395.4L625.0,395.1L625.5,395.2L626.0,395.1L626.5,395.1L627.0,394.2L627.5,393.4L628.0,385.7L628.5,378.2L629.0,374.4L629.5,374.8L630.0,375.0L630.5,375.0L631.0,375.1L631.5,375.2L632.0,375.4L632.5,374.9L633.0,374.3L633.5,374.4L634.0,375.2L634.5,375.3L635.0,390.4L635.5,406.1L636.0,405.7L636.5,405.7L637.0,405.7L637.5,405.2L638.0,405.5L638.5,405.1L639.0,405.0L639.5,405.0L640.0,404.9L640.5,405.4L641.0,405.0L641.5,400.1L642.0,390.4L642.5,380.2L643.0,380.3L643.5,380.1L644.0,380.1L644.5,380.5L645.0,380.1L645.5,368.1L646.0,356.4L646.5,350.3L647.0,350.6L647.5,350.4L648.0,350.1L648.5,350.2L649.0,350.1L649.5,350.7L650.0,350.6L650.5,350.3L651.0,350.8L651.5,351.1L652.0,351.2L652.5,350.8L653.0,350.7L653.5,351.4L654.0,351.5L654.5,350.6L655.0,350.5L655.5,359.8L656.0,368.2L656.5,372.2L657.0,372.7L657.5,373.0L658.0,372.9L658.5,372.9L659.0,373.3L659.5,373.7L660.0,374.2L660.5,374.4L661.0,373.7L661.5,373.7L662.0,374.6L662.5,375.0L663.0,374.7L663.5,374.9L664.0,375.3L664.5,375.7L665.0,376.4L665.5,376.5L666.0,377.2L666.5,378.4L667.0,378.1L667.5,378.4L668.0,379.4L668.5,379.4L669.0,380.1L669.5,381.0L670.0,381.4L670.5,382.1L671.0,382.0L671.5,386.2L672.0,396.0L672.5,405.4L673.0,415.0L673.5,416.0L674.0,416.1L674.5,416.6L675.0,417.3L675.5,418.0L676.0,418.4L676.5,418.9L677.0,419.3L677.5,419.6L678.0,420.1L678.5,420.3L679.0,420.9L679.5,422.0L680.0,422.6L680.5,420.6L681.0,419.1L681.5,417.6L682.0,415.8L682.5,414.7L683.0,414.7L683.5,414.8L684.0,415.0L684.5,414.4L685.0,413.5L685.5,413.3L686.0,413.0L686.5,412.3L687.0,412.2L687.5,412.1L688.0,411.3L688.5,410.6L689.0,410.4L689.5,410.3L690.0,410.2L690.5,409.6L691.0,409.6L691.5,410.0L692.0,409.6L692.5,408.9L693.0,408.7L693.5,408.9L694.0,408.6L694.5,407.9L695.0,407.8L695.5,407.9L696.0,407.6L696.5,407.5L697.0,407.7L697.5,407.3L698.0,415.8L698.5,424.8L699.0,425.3L699.5,425.8L700.0,426.4L700.5,427.4L701.0,428.9L701.5,429.8L702.0,430.4L702.5,431.0L703.0,431.1L703.5,430.8L704.0,430.3L704.5,429.5L705.0,430.1L705.5,430.2L706.0,429.3L706.5,428.6L707.0,428.2L707.5,428.6L708.0,428.7L708.5,428.3L709.0,427.9L709.5,427.5L710.0,427.6L710.5,427.4L711.0,427.1L711.5,427.3L712.0,427.6L712.5,427.4L713.0,427.1L713.5,427.2L714.0,426.5L714.5,425.6L715.0,425.9L715.5,426.6L716.0,426.4L716.5,425.6L717.0,425.0L717.5,425.2L718.0,425.1L718.5,423.2L719.0,421.5L719.5,419.1L720.0,417.3L720.5,415.5L721.0,413.6L721.5,411.9L722.0,410.2L722.5,408.6L723.0,406.8L723.5,405.1L724.0,403.2L724.5,401.1L725.0,399.5L725.5,397.8L726.0,396.4L726.5,395.3L727.0,393.8L727.5,391.6L728.0,389.9L728.5,386.3L729.0,382.6L729.5,379.4L730.0,379.0L730.5,378.5L731.0,378.6L731.5,378.3L732.0,378.1L732.5,378.6L733.0,379.1L733.5,379.2L734.0,379.5L734.5,379.9L735.0,380.1L735.5,380.7L736.0,381.2L736.5,381.6L737.0,381.9L737.5,382.0L738.0,382.3L738.5,382.4L739.0,382.4L739.5,382.5L740.0,382.8L740.5,383.6L741.0,383.4L741.5,383.5L742.0,384.3L742.5,384.3L743.0,384.0L743.5,384.4L744.0,384.6L744.5,385.0L745.0,385.0L745.5,385.0L746.0,386.6L746.5,387.8L747.0,388.2L747.5,388.9L748.0,390.4L748.5,391.4L749.0,393.0L749.5,394.2L750.0,395.0L750.5,395.9L751.0,396.6L751.5,398.6L752.0,400.5L752.5,401.6L753.0,402.7L753.5,404.1L754.0,405.4L754.5,406.2L755.0,407.4L755.5,409.0L756.0,410.4L756.5,411.7L757.0,416.3L757.5,424.7L758.0,425.1L758.5,425.2L759.0,425.5L759.5,425.5L760.0,425.5L760.5,426.2L761.0,426.6L761.5,427.2L762.0,427.9L762.5,427.8L763.0,427.8L763.5,428.5L764.0,428.4L764.5,428.5L765.0,429.3L765.5,429.4L766.0,429.3L766.5,429.6L767.0,430.1L767.5,430.1L768.0,429.9L768.5,430.1L769.0,431.4L769.5,431.8L770.0,431.3L770.5,431.6L771.0,431.8L771.5,432.0L772.0,427.1L772.5,416.1L773.0,405.0L773.5,405.1L774.0,405.3L774.5,405.0L775.0,404.2L775.5,404.3L776.0,404.2L776.5,404.1L777.0,404.4L777.5,403.8L778.0,403.7L778.5,404.1L779.0,404.4L779.5,404.3L780.0,403.9L780.5,404.1L781.0,404.2L781.5,404.0L782.0,403.9L782.5,404.2L783.0,404.1L783.5,404.5L784.0,405.0L784.5,404.8L785.0,405.0L785.5,405.9L786.0,406.5L786.5,406.7L787.0,407.3L787.5,407.7L788.0,407.1L788.5,407.2L789.0,408.6L789.5,409.0L790.0,408.9L790.5,408.9L791.0,409.3L791.5,409.5L792.0,409.4L792.5,409.8L793.0,410.1L793.5,409.3L794.0,408.8L794.5,407.4L795.0,406.8L795.5,406.9L796.0,406.1L796.5,405.5L797.0,404.5L797.5,403.9L798.0,404.1L798.5,404.1L799.0,404.1L799.5,404.0L800.0,403.5L800.5,403.0L801.0,437.8L801.5,437.0L802.0,437.0L802.5,437.6L803.0,437.6L803.5,437.3L804.0,437.5L804.5,431.0L805.0,417.9L805.5,404.8L806.0,403.6L806.5,402.9L807.0,401.9L807.5,401.0L808.0,399.8L808.5,398.1L809.0,396.9L809.5,395.3L810.0,393.5L810.5,391.5L811.0,389.8L811.5,388.3L812.0,385.9L812.5,383.8L813.0,382.0L813.5,379.8L814.0,377.9L814.5,375.7L815.0,374.3L815.5,373.4L816.0,372.1L816.5,370.1L817.0,368.4L817.5,367.6L818.0,366.8L818.5,365.6L819.0,364.1L819.5,362.6L820.0,361.6L820.5,361.4L821.0,360.3L821.5,359.0L822.0,358.4L822.5,357.7L823.0,356.7L823.5,355.7L824.0,355.1L824.5,354.8L825.0,354.0L825.5,352.5L826.0,341.3L826.5,331.0L827.0,324.6L827.5,320.3L828.0,315.0L828.5,310.8L829.0,307.0L829.5,307.1L830.0,306.7L830.5,307.1L831.0,307.0L831.5,306.2L832.0,310.2L832.5,318.4L833.0,326.8L833.5,329.8L834.0,332.7L834.5,335.3L835.0,337.9L835.5,340.6L836.0,341.5L836.5,343.1L837.0,344.9L837.5,346.8L838.0,348.2L838.5,349.1L839.0,349.9L839.5,350.7L840.0,351.5L840.5,352.5L841.0,352.8L841.5,353.1L842.0,354.3L842.5,355.1L843.0,356.2L843.5,357.5L844.0,358.5L844.5,359.8L845.0,361.4L845.5,362.4L846.0,362.8L846.5,364.4L847.0,366.0L847.5,368.1L848.0,369.9L848.5,370.0L849.0,371.4L849.5,373.0L850.0,373.6L850.5,374.4L851.0,375.9L851.5,376.8L852.0,377.0L852.5,379.3L853.0,381.8L853.5,383.9L854.0,386.0L854.5,393.3L855.0,405.8L855.5,417.6L856.0,421.0L856.5,425.2L857.0,429.5L857.5,433.0L858.0,437.1L858.5,424.1L859.0,410.2L859.5,395.6L860.0,394.5L860.5,394.2L861.0,393.5L861.5,392.0L862.0,390.6L862.5,390.0L863.0,390.0L863.5,389.2L864.0,388.5L864.5,388.1L865.0,388.1L865.5,388.3L866.0,387.9L866.5,387.7L867.0,387.5L867.5,386.8L868.0,386.4L868.5,385.9L869.0,384.6L869.5,382.1L870.0,378.5L870.5,375.6L871.0,373.3L871.5,371.8L872.0,370.9L872.5,370.3L873.0,370.6L873.5,370.2L874.0,370.3L874.5,370.2L875.0,369.8L875.5,370.5L876.0,370.3L876.5,370.0L877.0,369.5L877.5,369.3L878.0,369.2L878.5,368.8L879.0,367.0L879.5,363.5L880.0,358.8L880.5,355.0L881.0,353.7L881.5,351.2L882.0,349.5L882.5,348.3L883.0,346.0L883.5,343.9L884.0,341.8L884.5,339.3L885.0,337.2L885.5,335.2L886.0,333.0L886.5,331.5L887.0,330.1L887.5,329.0L888.0,328.7L888.5,328.1L889.0,326.7L889.5,325.4L890.0,324.4L890.5,323.0L891.0,322.0L891.5,320.4L892.0,318.8L892.5,318.1L893.0,317.1L893.5,315.6L894.0,314.1L894.5,313.1L895.0,312.3L895.5,311.2L896.0,310.6L896.5,309.6L897.0,308.0L897.5,306.8L898.0,305.8L898.5,304.6L899.0,302.6L899.5,300.2L900.0,298.2L900.5,296.4L901.0,294.8L901.5,293.6L902.0,292.4L902.5,291.4L903.0,290.0L903.5,288.3L904.0,287.1L904.5,286.2L905.0,285.2L905.5,281.7L906.0,278.3L906.5,275.5L907.0,272.5L907.5,270.0L908.0,267.0L908.5,264.8L909.0,263.6L909.5,261.7L910.0,260.2L910.5,258.2L911.0,256.9L911.5,255.7L912.0,254.2L912.5,253.4L913.0,254.1L913.5,254.4L914.0,255.5L914.5,256.8L914.5,468.0Z" fill="#acddb4"/>
<g opacity="0.04" transform="translate(286.7,312.9) scale(3.62)"><g fill="none" stroke="#000" stroke-width="2.7"><circle cx="7" cy="-7" r="5.65"/><path d="M13.15,-14 V-0.5 C13.15,3 10.5,4.45 7.2,4.45 C4.8,4.45 3,3.6 2.0,2.0"/><path d="M18.95,-18.8 V0"/><circle cx="30.1" cy="-7" r="5.65"/><path d="M35.75,-14 V0"/><path transform="translate(44.8,0) scale(1.1,1)" d="M3.1,-10.4 C2.6,-11.9 1.5,-12.7 0,-12.7 C-1.9,-12.7 -3.2,-11.6 -3.2,-10.1 C-3.2,-8.4 -1.6,-7.7 0,-7.2 C1.8,-6.7 3.4,-5.9 3.4,-4.0 C3.4,-2.3 1.9,-1.3 0,-1.3 C-1.8,-1.3 -3.1,-2.2 -3.6,-3.8"/><path transform="translate(57.2,0) scale(1.08,1)" d="M3.1,-10.4 C2.6,-11.9 1.5,-12.7 0,-12.7 C-1.9,-12.7 -3.2,-11.6 -3.2,-10.1 C-3.2,-8.4 -1.6,-7.7 0,-7.2 C1.8,-6.7 3.4,-5.9 3.4,-4.0 C3.4,-2.3 1.9,-1.3 0,-1.3 C-1.8,-1.3 -3.1,-2.2 -3.6,-3.8"/><path d="M64.95,0 V-14 M64.95,-8.2 C64.95,-11 67,-12.65 69.55,-12.65 C72.3,-12.65 74.15,-10.9 74.15,-8.2 V0"/><circle cx="84.7" cy="-7" r="5.65"/><circle cx="101.1" cy="-7" r="5.65"/><path d="M107.15,-18.6 V0"/><path d="M112.3,-7 H123.5 A5.65,5.65 0 1 0 122.53,-3.76"/></g></g>
<rect x="159.0" y="468" width="1" height="5" fill="#efefef"/>
<rect x="214.6" y="468" width="1" height="5" fill="#efefef"/>
<rect x="270.2" y="468" width="1" height="5" fill="#efefef"/>
<rect x="325.8" y="468" width="1" height="5" fill="#efefef"/>
<rect x="381.4" y="468" width="1" height="5" fill="#efefef"/>
<rect x="437.0" y="468" width="1" height="5" fill="#efefef"/>
<rect x="492.6" y="468" width="1" height="5" fill="#efefef"/>
<rect x="548.2" y="468" width="1" height="5" fill="#efefef"/>
<rect x="603.8" y="468" width="1" height="5" fill="#efefef"/>
<rect x="659.4" y="468" width="1" height="5" fill="#efefef"/>
<rect x="715.0" y="468" width="1" height="5" fill="#efefef"/>
<rect x="770.6" y="468" width="1" height="5" fill="#efefef"/>
<rect x="826.2" y="468" width="1" height="5" fill="#efefef"/>
<rect x="881.8" y="468" width="1" height="5" fill="#efefef"/>
<rect x="917" y="117" width="1" height="351" fill="#666"/>
<path d="M109.3,362.3L110.3,362.4L111.4,360.4L112.4,353.9L113.5,363.2L114.5,374.4L115.6,385.8L116.6,396.9L117.7,387.4L118.7,373.5L119.8,374.4L120.8,379.2L121.9,382.1L122.9,381.0L124.0,378.2L125.0,384.3L126.1,394.3L127.1,395.1L128.2,389.3L129.2,387.5L130.3,392.7L131.3,388.3L132.4,388.6L133.4,388.3L134.5,391.2L135.5,395.8L136.6,411.1L137.6,420.3L138.7,433.6L139.7,437.8L140.8,441.4L141.8,446.5L142.9,453.9L143.9,458.2L145.0,464.2L146.0,449.8L147.1,437.3L148.1,429.8L149.2,415.1L150.2,417.9L151.3,412.1L152.3,415.4L153.4,424.7L154.4,432.3L155.5,437.5L156.5,432.6L157.6,438.4L158.6,443.5L159.7,440.1L160.7,440.9L161.8,440.0L162.8,432.9L163.9,426.9L164.9,418.4L166.0,411.1L167.0,417.1L168.1,426.7L169.1,423.2L170.2,424.3L171.2,424.8L172.3,418.7L173.3,425.7L174.4,419.1L175.4,418.8L176.5,421.1L177.5,410.1L178.6,405.0L179.6,404.8L180.7,399.0L181.7,402.8L182.8,407.4L183.8,409.2L184.9,411.5L185.9,410.7L187.0,410.4L188.0,406.5L189.1,395.7L190.1,377.6L191.2,365.4L192.2,361.3L193.3,367.1L194.3,361.4L195.4,370.4L196.4,375.2L197.5,370.3L198.5,373.9L199.6,368.8L200.6,366.6L201.7,356.3L202.7,352.5L203.8,345.7L204.8,350.2L205.9,360.4L206.9,353.0L208.0,357.1L209.0,370.0L210.1,383.3L211.1,386.0L212.2,388.7L213.2,383.1L214.3,382.2L215.3,378.6L216.4,374.7L217.4,381.6L218.5,389.7L219.5,390.7L220.6,393.7L221.6,402.0L222.7,405.7L223.7,404.1L224.8,409.2L225.8,398.2L226.9,395.0L227.9,395.9L229.0,386.4L230.0,386.8L231.1,396.0L232.1,403.9L233.2,403.6L234.2,398.6L235.3,390.5L236.3,395.6L237.4,396.7L238.4,402.4L239.5,398.7L240.5,405.9L241.6,401.2L242.6,398.5L243.7,400.4L244.7,396.5L245.8,393.8L246.8,398.0L247.9,402.8L248.9,402.1L250.0,409.3L251.0,419.2L252.1,418.0L253.1,416.3L254.2,415.8L255.2,419.8L256.3,421.7L257.3,433.4L258.4,430.1L259.4,427.9L260.5,422.3L261.5,421.4L262.6,421.6L263.6,417.4L264.7,410.2L265.7,407.6L266.8,406.7L267.8,401.3L268.9,399.1L269.9,392.9L271.0,386.9L272.0,385.6L273.1,378.1L274.1,368.9L275.2,358.0L276.2,359.0L277.3,362.7L278.3,370.8L279.4,377.1L280.4,373.1L281.5,384.2L282.5,417.9L283.6,441.5L284.6,437.1L285.7,428.7L286.7,428.2L287.8,422.0L288.8,419.9L289.9,410.1L290.9,406.8L292.0,407.9L293.0,412.5L294.1,403.3L295.1,396.3L296.2,388.4L297.2,387.5L298.3,381.3L299.3,393.4L300.4,393.2L301.4,391.5L302.5,387.3L303.5,380.6L304.6,379.1L305.6,380.6L306.7,381.9L307.7,371.7L308.8,370.9L309.8,373.6L310.9,370.2L311.9,371.1L313.0,375.7L314.0,377.8L315.1,378.0L316.1,383.9L317.2,377.6L318.2,377.4L319.3,379.0L320.3,379.1L321.4,371.0L322.4,372.9L323.5,366.1L324.5,348.4L325.6,342.1L326.6,334.3L327.7,329.0L328.7,327.7L329.8,329.4L330.8,330.6L331.9,330.8L332.9,328.4L334.0,325.0L335.0,322.3L336.1,319.8L337.1,331.4L338.2,335.7L339.2,331.2L340.3,337.2L341.3,333.9L342.4,339.7L343.4,342.1L344.5,340.4L345.5,341.9L346.6,330.9L347.6,335.8L348.7,335.8L349.7,332.1L350.8,333.9L351.8,328.5L352.9,332.5L353.9,331.5L355.0,323.3L356.0,320.0L357.1,318.3L358.1,314.9L359.2,316.3L360.2,306.0L361.3,301.1L362.3,300.5L363.4,299.2L364.4,298.8L365.5,295.0L366.5,293.7L367.6,291.2L368.6,291.8L369.7,285.5L370.7,285.0L371.8,279.5L372.8,265.3L373.9,253.6L374.9,245.1L376.0,245.1L377.0,242.4L378.1,234.8L379.1,226.9L380.2,229.8L381.2,233.8L382.3,219.7L383.3,212.3L384.4,210.4L385.4,201.2L386.5,198.6L387.5,201.0L388.6,210.3L389.6,213.8L390.7,222.4L391.7,220.6L392.8,213.6L393.8,204.6L394.9,198.4L395.9,200.4L397.0,211.7L398.0,213.4L399.1,203.1L400.1,197.7L401.2,191.3L402.2,182.2L403.3,184.1L404.3,178.0L405.4,176.1L406.4,178.5L407.5,179.7L408.5,180.4L409.6,167.7L410.6,154.2L411.7,143.1L412.7,137.5L413.8,142.5L414.8,161.0L415.9,173.8L416.9,182.7L418.0,165.5L419.0,165.7L420.1,165.2L421.1,177.2L422.2,173.1L423.2,180.2L424.3,189.7L425.3,196.1L426.4,198.8L427.4,192.1L428.5,183.5L429.5,185.1L430.6,186.8L431.6,196.3L432.7,203.7L433.7,201.8L434.8,190.4L435.8,182.5L436.9,175.1L437.9,165.3L439.0,163.0L440.0,157.0L441.1,151.8L442.1,154.6L443.2,152.6L444.2,157.0L445.3,152.8L446.3,139.0L447.4,139.4L448.4,137.7L449.5,146.3L450.5,149.6L451.6,156.7L452.6,160.2L453.7,166.6L454.7,160.6L455.8,149.9L456.8,145.2L457.9,142.9L458.9,141.3L460.0,137.3L461.0,141.8L462.1,134.3L463.1,135.4L464.2,128.1L465.2,130.6L466.3,120.0L467.3,122.0L468.4,119.9L469.4,128.7L470.5,135.8L471.5,126.0L472.6,125.3L473.6,125.6L474.7,126.1L475.7,126.7L476.8,137.4L477.8,135.3L478.9,138.9L479.9,136.5L481.0,132.7L482.0,134.9L483.1,143.1L484.1,138.9L485.2,144.6L486.2,150.8L487.3,155.4L488.3,160.0L489.4,162.2L490.4,179.6L491.5,176.0L492.5,171.2L493.6,165.9L494.6,159.9L495.7,152.6L496.7,158.8L497.8,168.1L498.8,165.8L499.9,165.9L500.9,168.1L502.0,163.4L503.0,169.7L504.1,177.7L505.1,170.3L506.2,168.2L507.2,164.6L508.3,162.2L509.3,158.4L510.4,150.1L511.4,145.5L512.5,148.3L513.5,147.9L514.6,158.5L515.6,157.6L516.7,159.0L517.7,158.5L518.8,166.0L519.8,163.7L520.9,162.8L521.9,166.6L523.0,175.8L524.0,189.2L525.1,196.7L526.1,193.4L527.2,196.6L528.2,198.0L529.3,202.8L530.3,204.4L531.4,205.9L532.4,210.7L533.5,224.8L534.5,233.8L535.6,251.0L536.6,247.5L537.7,238.0L538.7,241.1L539.8,246.5L540.8,238.2L541.9,235.6L542.9,225.9L544.0,220.6L545.0,212.3L546.1,215.5L547.1,209.3L548.2,216.6L549.2,208.5L550.3,204.6L551.3,196.1L552.4,193.9L553.4,204.6L554.5,208.6L555.5,216.3L556.6,220.6L557.6,221.1L558.7,211.1L559.7,207.5L560.8,205.1L561.8,213.2L562.9,218.2L563.9,223.1L565.0,227.6L566.0,229.4L567.1,232.1L568.1,229.5L569.2,234.0L570.2,225.2L571.3,226.7L572.3,231.4L573.4,230.2L574.4,222.0L575.5,219.7L576.5,214.2L577.6,219.5L578.6,221.9L579.7,244.0L580.7,242.8L581.8,239.5L582.8,239.2L583.9,233.6L584.9,234.7L586.0,227.5L587.0,233.5L588.1,234.8L589.1,232.3L590.2,238.9L591.2,234.3L592.3,237.1L593.3,233.0L594.4,237.1L595.4,235.4L596.5,227.4L597.5,224.7L598.6,218.5L599.6,218.2L600.7,211.7L601.7,211.5L602.8,211.4L603.8,211.3L604.9,211.2L605.9,209.7L607.0,212.8L608.0,217.5L609.1,211.2L610.1,208.2L611.2,206.1L612.2,210.6L613.3,212.3L614.3,215.0L615.4,224.4L616.4,215.9L617.5,211.5L618.5,208.7L619.6,204.1L620.6,205.7L621.7,201.2L622.7,199.8L623.8,201.4L624.8,198.1L625.9,197.8L626.9,192.7L628.0,191.8L629.0,196.9L630.1,201.3L631.1,198.2L632.2,201.1L633.2,200.9L634.3,205.4L635.3,201.1L636.4,204.7L637.4,197.7L638.5,200.3L639.5,202.5L640.6,198.5L641.6,204.6L642.7,198.8L643.7,206.2L644.8,208.9L645.8,208.6L646.9,201.5L647.9,204.1L649.0,194.0L650.0,200.9L651.1,198.5L652.1,199.8L653.2,195.8L654.2,193.3L655.3,195.9L656.3,197.1L657.4,201.0L658.4,199.3L659.5,201.4L660.5,201.8L661.6,204.6L662.6,195.9L663.7,201.5L664.7,206.8L665.8,209.2L666.8,208.2L667.9,209.9L668.9,211.1L670.0,212.4L671.0,211.2L672.1,211.7L673.1,210.8L674.2,211.5L675.2,214.9L676.3,207.2L677.3,211.0L678.4,213.3L679.4,211.2L680.5,217.8L681.5,214.7L682.6,218.7L683.6,210.8L684.7,204.3L685.7,205.3L686.8,206.1L687.8,196.5L688.9,196.2L689.9,189.1L691.0,188.3L692.0,193.1L693.1,192.6L694.1,195.2L695.2,194.1L696.2,184.4L697.3,182.7L698.3,181.7L699.4,187.0L700.4,182.4L701.5,183.2L702.5,186.8L703.6,190.7L704.6,183.7L705.7,183.9L706.7,184.3L707.8,182.5L708.8,181.6L709.9,169.7L710.9,171.2L712.0,179.4L713.0,183.7L714.1,179.8L715.1,181.4L716.2,183.7L717.2,177.7L718.3,177.7L719.3,172.3L720.4,168.9L721.4,163.7L722.5,158.5L723.5,156.4L724.6,146.8L725.6,144.0L726.7,142.7L727.7,134.2L728.8,140.0L729.8,147.2L730.9,150.3L731.9,153.8L733.0,146.5L734.0,149.7L735.1,146.6L736.1,145.2L737.2,149.5L738.2,156.2L739.3,158.8L740.3,160.1L741.4,153.9L742.4,155.4L743.5,156.7L744.5,157.2L745.6,159.6L746.6,164.0L747.7,157.7L748.7,148.7L749.8,141.6L750.8,138.5L751.9,141.1L752.9,139.0L754.0,136.9L755.0,142.3L756.1,146.7L757.1,147.3L758.2,145.0L759.2,150.2L760.3,150.7L761.3,154.3L762.4,160.9L763.4,160.1L764.5,159.1L765.5,152.8L766.6,152.2L767.6,149.6L768.7,150.1L769.7,153.1L770.8,153.8L771.8,169.2L772.9,175.9L773.9,181.5L775.0,175.9L776.0,165.1L777.1,165.3L778.1,175.1L779.2,170.9L780.2,178.0L781.3,176.3L782.3,183.2L783.4,182.1L784.4,182.3L785.5,176.7L786.5,178.4L787.6,169.2L788.6,175.2L789.7,174.5L790.7,178.8L791.8,175.6L792.8,172.5L793.9,177.3L794.9,168.4L796.0,168.1L797.0,170.8L798.1,171.8L799.1,177.5L800.2,173.0L801.2,161.8L802.3,155.8L803.3,149.3L804.4,154.0L805.4,154.3L806.5,153.2L807.5,146.8L808.6,137.5L809.6,137.9L810.7,135.7L811.7,139.8L812.8,138.0L813.8,138.6L814.9,148.1L815.9,149.1L817.0,149.5L818.0,146.3L819.1,147.3L820.1,148.2L821.2,153.0L822.2,153.3L823.3,155.1L824.3,151.7L825.4,152.8L826.4,156.8L827.5,161.5L828.5,166.4L829.6,168.7L830.6,169.6L831.7,162.3L832.7,169.6L833.8,165.1L834.8,174.9L835.9,179.8L836.9,187.9L838.0,191.4L839.0,195.5L840.1,200.0L841.1,199.7L842.2,199.5L843.2,194.6L844.3,192.9L845.3,201.2L846.4,209.1L847.4,220.9L848.5,215.9L849.5,212.8L850.6,211.1L851.6,206.3L852.7,200.4L853.7,205.4L854.8,198.2L855.8,196.1L856.9,187.8L857.9,168.0L859.0,170.4L860.0,176.1L861.1,171.2L862.1,169.4L863.2,171.4L864.2,176.5L865.3,166.9L866.3,166.2L867.4,164.6L868.4,172.1L869.5,185.3L870.5,183.1L871.6,179.0L872.6,178.2L873.7,173.3L874.7,170.7L875.8,175.8L876.8,164.2L877.9,146.5L878.9,145.8L880.0,143.9L881.0,144.5L882.1,147.7L883.1,138.4L884.2,132.1L885.2,118.2L886.3,127.6L887.3,128.9L888.4,127.3L889.4,119.0L890.5,127.0L891.5,124.0L892.6,126.4L893.6,127.2L894.7,124.8L895.7,122.8L896.8,120.6L897.8,130.8L898.9,133.8L899.9,140.3L901.0,134.6L902.0,124.2L903.1,127.8L904.1,139.0L905.2,137.4L906.2,139.0L907.3,134.5L908.3,139.0L909.4,137.5L910.4,137.8L911.5,142.5L912.5,143.8L913.6,146.2" fill="none" stroke="#000" stroke-width="2.15" stroke-linejoin="miter" stroke-miterlimit="2.5"/>
<text transform="translate(95.4,471.9) scale(1,1.08)" font-size="9.6" fill="#555" text-anchor="end">0</text>
<text transform="translate(95.4,438.7) scale(1,1.08)" font-size="9.6" fill="#555" text-anchor="end">5K</text>
<text transform="translate(95.4,405.5) scale(1,1.08)" font-size="9.6" fill="#555" text-anchor="end">10K</text>
<text transform="translate(95.4,372.3) scale(1,1.08)" font-size="9.6" fill="#555" text-anchor="end">15K</text>
<text transform="translate(95.4,339.1) scale(1,1.08)" font-size="9.6" fill="#555" text-anchor="end">20K</text>
<text transform="translate(95.4,305.9) scale(1,1.08)" font-size="9.6" fill="#555" text-anchor="end">25K</text>
<text transform="translate(95.4,272.7) scale(1,1.08)" font-size="9.6" fill="#555" text-anchor="end">30K</text>
<text transform="translate(95.4,239.5) scale(1,1.08)" font-size="9.6" fill="#555" text-anchor="end">35K</text>
<text transform="translate(95.4,206.3) scale(1,1.08)" font-size="9.6" fill="#555" text-anchor="end">40K</text>
<text transform="translate(95.4,173.1) scale(1,1.08)" font-size="9.6" fill="#555" text-anchor="end">45K</text>
<text transform="translate(95.4,139.9) scale(1,1.08)" font-size="9.6" fill="#555" text-anchor="end">50K</text>
<text transform="translate(928.8,120.2) scale(1,1.08)" font-size="9.6" fill="#555">$5k</text>
<text transform="translate(928.8,163.9) scale(1,1.08)" font-size="9.6" fill="#555">$3k</text>
<text transform="translate(928.8,198.1) scale(1,1.08)" font-size="9.6" fill="#555">$2k</text>
<text transform="translate(928.8,256.9) scale(1,1.08)" font-size="9.6" fill="#555">$1k</text>
<text transform="translate(928.8,287.4) scale(1,1.08)" font-size="9.6" fill="#555">$700</text>
<text transform="translate(928.8,315.9) scale(1,1.08)" font-size="9.6" fill="#555">$500</text>
<text transform="translate(928.8,358.9) scale(1,1.08)" font-size="9.6" fill="#555">$300</text>
<text transform="translate(928.8,393.4) scale(1,1.08)" font-size="9.6" fill="#555">$200</text>
<text transform="translate(928.8,452.9) scale(1,1.08)" font-size="9.6" fill="#555">$100</text>
<text transform="translate(159.5,489.7) scale(1,1.08)" font-size="9.8" fill="#555" text-anchor="middle">Feb '19</text>
<text transform="translate(215.1,489.7) scale(1,1.08)" font-size="9.8" fill="#555" text-anchor="middle">Aug '19</text>
<text transform="translate(270.7,489.7) scale(1,1.08)" font-size="9.8" fill="#555" text-anchor="middle">Feb '20</text>
<text transform="translate(326.3,489.7) scale(1,1.08)" font-size="9.8" fill="#555" text-anchor="middle">Aug '20</text>
<text transform="translate(381.9,489.7) scale(1,1.08)" font-size="9.8" fill="#555" text-anchor="middle">Feb '21</text>
<text transform="translate(437.5,489.7) scale(1,1.08)" font-size="9.8" fill="#555" text-anchor="middle">Aug '21</text>
<text transform="translate(493.1,489.7) scale(1,1.08)" font-size="9.8" fill="#555" text-anchor="middle">Feb '22</text>
<text transform="translate(548.7,489.7) scale(1,1.08)" font-size="9.8" fill="#555" text-anchor="middle">Aug '22</text>
<text transform="translate(604.3,489.7) scale(1,1.08)" font-size="9.8" fill="#555" text-anchor="middle">Feb '23</text>
<text transform="translate(659.9,489.7) scale(1,1.08)" font-size="9.8" fill="#555" text-anchor="middle">Aug '23</text>
<text transform="translate(715.5,489.7) scale(1,1.08)" font-size="9.8" fill="#555" text-anchor="middle">Feb '24</text>
<text transform="translate(771.1,489.7) scale(1,1.08)" font-size="9.8" fill="#555" text-anchor="middle">Aug '24</text>
<text transform="translate(826.7,489.7) scale(1,1.08)" font-size="9.8" fill="#555" text-anchor="middle">Feb '25</text>
<text transform="translate(882.3,489.7) scale(1,1.08)" font-size="9.8" fill="#555" text-anchor="middle">Aug '25</text>
<text x="25" y="551" font-size="13" fill="#777" textLength="228" lengthAdjust="spacingAndGlyphs">© 2025 Glassnode. All Rights Reserved.</text>
<g transform="translate(872.2,553.8)"><g fill="none" stroke="#111" stroke-width="2.7"><circle cx="7" cy="-7" r="5.65"/><path d="M13.15,-14 V-0.5 C13.15,3 10.5,4.45 7.2,4.45 C4.8,4.45 3,3.6 2.0,2.0"/><path d="M18.95,-18.8 V0"/><circle cx="30.1" cy="-7" r="5.65"/><path d="M35.75,-14 V0"/><path transform="translate(44.8,0) scale(1.1,1)" d="M3.1,-10.4 C2.6,-11.9 1.5,-12.7 0,-12.7 C-1.9,-12.7 -3.2,-11.6 -3.2,-10.1 C-3.2,-8.4 -1.6,-7.7 0,-7.2 C1.8,-6.7 3.4,-5.9 3.4,-4.0 C3.4,-2.3 1.9,-1.3 0,-1.3 C-1.8,-1.3 -3.1,-2.2 -3.6,-3.8"/><path transform="translate(57.2,0) scale(1.08,1)" d="M3.1,-10.4 C2.6,-11.9 1.5,-12.7 0,-12.7 C-1.9,-12.7 -3.2,-11.6 -3.2,-10.1 C-3.2,-8.4 -1.6,-7.7 0,-7.2 C1.8,-6.7 3.4,-5.9 3.4,-4.0 C3.4,-2.3 1.9,-1.3 0,-1.3 C-1.8,-1.3 -3.1,-2.2 -3.6,-3.8"/><path d="M64.95,0 V-14 M64.95,-8.2 C64.95,-11 67,-12.65 69.55,-12.65 C72.3,-12.65 74.15,-10.9 74.15,-8.2 V0"/><circle cx="84.7" cy="-7" r="5.65"/><circle cx="101.1" cy="-7" r="5.65"/><path d="M107.15,-18.6 V0"/><path d="M112.3,-7 H123.5 A5.65,5.65 0 1 0 122.53,-3.76"/></g></g>
</svg></body></html>
